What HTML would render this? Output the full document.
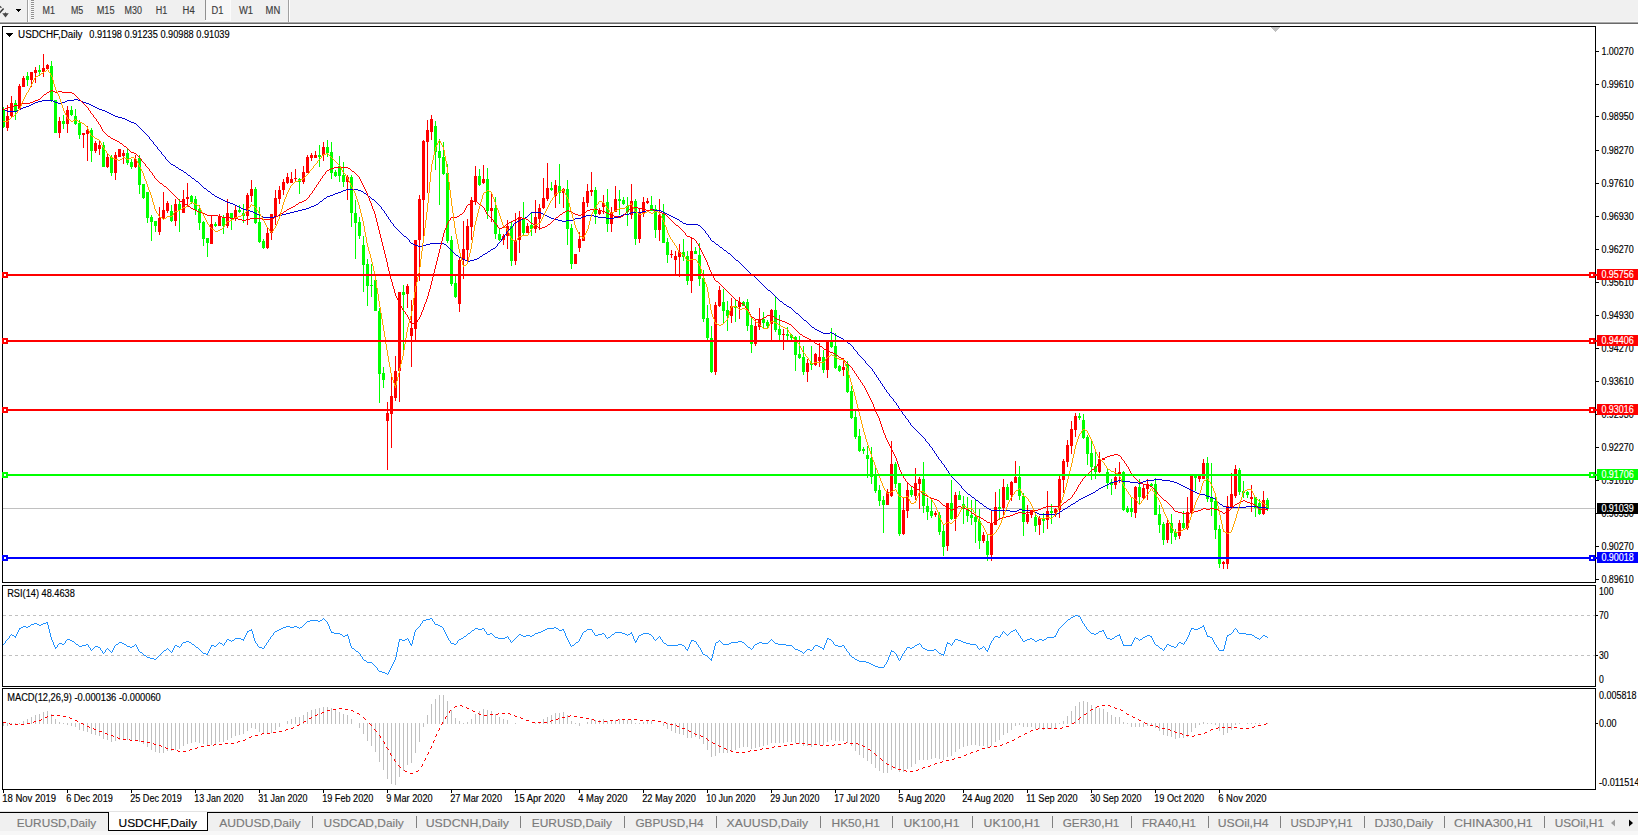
<!DOCTYPE html>
<html><head><meta charset="utf-8"><title>USDCHF,Daily</title>
<style>html,body{margin:0;padding:0;background:#fff;overflow:hidden}body{width:1638px;height:835px;position:relative;font-family:"Liberation Sans",sans-serif}</style></head>
<body>
<svg width="1638" height="835" viewBox="0 0 1638 835" style="position:absolute;left:0;top:0">
<rect x="0" y="0" width="1638" height="835" fill="#ffffff"/>
<rect x="0" y="0" width="1638" height="21" fill="#f0f0f0"/>
<rect x="0" y="21" width="1638" height="1" fill="#f6f6f6"/>
<rect x="0" y="22" width="1638" height="1" fill="#a9a9a9"/>
<rect x="0" y="23" width="1638" height="1" fill="#6a6a6a"/>
<g shape-rendering="crispEdges">
<rect x="27" y="0" width="1" height="22" fill="#a0a0a0"/><rect x="28" y="0" width="1" height="22" fill="#ffffff"/>
<rect x="16" y="9" width="5" height="1" fill="#000"/><rect x="17" y="10" width="3" height="1" fill="#000"/><rect x="18" y="11" width="1" height="1" fill="#000"/>
<rect x="31" y="0" width="3" height="1" fill="#909090"/><rect x="31" y="1" width="3" height="1" fill="#f8f8f8"/>
<rect x="31" y="2" width="3" height="1" fill="#909090"/><rect x="31" y="3" width="3" height="1" fill="#f8f8f8"/>
<rect x="31" y="4" width="3" height="1" fill="#909090"/><rect x="31" y="5" width="3" height="1" fill="#f8f8f8"/>
<rect x="31" y="6" width="3" height="1" fill="#909090"/><rect x="31" y="7" width="3" height="1" fill="#f8f8f8"/>
<rect x="31" y="8" width="3" height="1" fill="#909090"/><rect x="31" y="9" width="3" height="1" fill="#f8f8f8"/>
<rect x="31" y="10" width="3" height="1" fill="#909090"/><rect x="31" y="11" width="3" height="1" fill="#f8f8f8"/>
<rect x="31" y="12" width="3" height="1" fill="#909090"/><rect x="31" y="13" width="3" height="1" fill="#f8f8f8"/>
<rect x="31" y="14" width="3" height="1" fill="#909090"/><rect x="31" y="15" width="3" height="1" fill="#f8f8f8"/>
<rect x="31" y="16" width="3" height="1" fill="#909090"/><rect x="31" y="17" width="3" height="1" fill="#f8f8f8"/>
<rect x="31" y="18" width="3" height="1" fill="#909090"/><rect x="31" y="19" width="3" height="1" fill="#f8f8f8"/>
<rect x="206" y="0" width="24" height="20" fill="#f7f7f7"/><rect x="205" y="0" width="1" height="20" fill="#909090"/><rect x="205" y="20" width="26" height="1" fill="#fbfbfb"/><rect x="230" y="0" width="1" height="21" fill="#fbfbfb"/>
<rect x="288" y="0" width="1" height="22" fill="#a0a0a0"/><rect x="289" y="0" width="1" height="22" fill="#ffffff"/>
</g>
<path d="M3.6 8.6L-0.5 13" stroke="#383838" stroke-width="1.5" fill="none"/><path d="M0 5.8l1.8 1.4-0.6 0.9L0 7.4z" fill="#383838"/><path d="M2.2 13.2h2.4l0.9-1 0.9 1h2.4L5.5 17.4z" fill="#484848"/>
<text x="42.5" y="14.0" font-family="Liberation Sans, sans-serif" font-size="10" fill="#3c3c3c" textLength="12.4" lengthAdjust="spacingAndGlyphs" stroke="#3c3c3c" stroke-width="0.15">M1</text>
<text x="71.0" y="14.0" font-family="Liberation Sans, sans-serif" font-size="10" fill="#3c3c3c" textLength="12.3" lengthAdjust="spacingAndGlyphs" stroke="#3c3c3c" stroke-width="0.15">M5</text>
<text x="96.7" y="14.0" font-family="Liberation Sans, sans-serif" font-size="10" fill="#3c3c3c" textLength="17.8" lengthAdjust="spacingAndGlyphs" stroke="#3c3c3c" stroke-width="0.15">M15</text>
<text x="124.5" y="14.0" font-family="Liberation Sans, sans-serif" font-size="10" fill="#3c3c3c" textLength="17.4" lengthAdjust="spacingAndGlyphs" stroke="#3c3c3c" stroke-width="0.15">M30</text>
<text x="155.7" y="14.0" font-family="Liberation Sans, sans-serif" font-size="10" fill="#3c3c3c" textLength="11.5" lengthAdjust="spacingAndGlyphs" stroke="#3c3c3c" stroke-width="0.15">H1</text>
<text x="182.6" y="14.0" font-family="Liberation Sans, sans-serif" font-size="10" fill="#3c3c3c" textLength="12.1" lengthAdjust="spacingAndGlyphs" stroke="#3c3c3c" stroke-width="0.15">H4</text>
<text x="211.5" y="14.0" font-family="Liberation Sans, sans-serif" font-size="10" fill="#3c3c3c" textLength="11.9" lengthAdjust="spacingAndGlyphs" stroke="#3c3c3c" stroke-width="0.15">D1</text>
<text x="239.0" y="14.0" font-family="Liberation Sans, sans-serif" font-size="10" fill="#3c3c3c" textLength="14.1" lengthAdjust="spacingAndGlyphs" stroke="#3c3c3c" stroke-width="0.15">W1</text>
<text x="265.6" y="14.0" font-family="Liberation Sans, sans-serif" font-size="10" fill="#3c3c3c" textLength="14.6" lengthAdjust="spacingAndGlyphs" stroke="#3c3c3c" stroke-width="0.15">MN</text>
<g shape-rendering="crispEdges">
<rect x="3" y="508" width="1592" height="1" fill="#c0c0c0"/>
<path d="M3 615.5H1595" stroke="#c0c0c0" stroke-width="1" stroke-dasharray="3 3" fill="none"/>
<path d="M3 655.5H1595" stroke="#c0c0c0" stroke-width="1" stroke-dasharray="3 3" fill="none"/>
<path d="M3 723h1v3h-1zM7 723h1v3h-1zM11 723h1v2h-1zM15 723h1v2h-1zM19 723h1v1h-1zM23 721h1v3h-1zM27 719h1v5h-1zM31 717h1v7h-1zM35 715h1v9h-1zM39 714h1v10h-1zM43 712h1v12h-1zM47 711h1v13h-1zM51 714h1v10h-1zM55 719h1v5h-1zM59 722h1v2h-1zM63 723h1v1h-1zM67 723h1v2h-1zM71 723h1v3h-1zM75 723h1v4h-1zM79 723h1v7h-1zM83 723h1v8h-1zM87 723h1v9h-1zM91 723h1v11h-1zM95 723h1v12h-1zM99 723h1v13h-1zM103 723h1v16h-1zM107 723h1v17h-1zM111 723h1v19h-1zM115 723h1v18h-1zM119 723h1v17h-1zM123 723h1v17h-1zM127 723h1v17h-1zM131 723h1v17h-1zM135 723h1v17h-1zM139 723h1v19h-1zM143 723h1v21h-1zM147 723h1v24h-1zM151 723h1v27h-1zM155 723h1v29h-1zM159 723h1v30h-1zM163 723h1v30h-1zM167 723h1v28h-1zM171 723h1v28h-1zM175 723h1v27h-1zM179 723h1v26h-1zM183 723h1v23h-1zM187 723h1v21h-1zM191 723h1v20h-1zM195 723h1v19h-1zM199 723h1v20h-1zM203 723h1v21h-1zM207 723h1v23h-1zM211 723h1v22h-1zM215 723h1v21h-1zM219 723h1v19h-1zM223 723h1v19h-1zM227 723h1v17h-1zM231 723h1v15h-1zM235 723h1v13h-1zM239 723h1v12h-1zM243 723h1v11h-1zM247 723h1v8h-1zM251 723h1v5h-1zM255 723h1v6h-1zM259 723h1v9h-1zM263 723h1v11h-1zM267 723h1v11h-1zM271 723h1v10h-1zM275 723h1v7h-1zM279 723h1v4h-1zM287 721h1v3h-1zM291 719h1v5h-1zM295 717h1v7h-1zM299 717h1v7h-1zM303 715h1v9h-1zM307 712h1v12h-1zM311 710h1v14h-1zM315 709h1v15h-1zM319 708h1v16h-1zM323 707h1v17h-1zM327 707h1v17h-1zM331 708h1v16h-1zM335 710h1v14h-1zM339 712h1v12h-1zM343 714h1v10h-1zM347 715h1v9h-1zM351 719h1v5h-1zM359 723h1v5h-1zM363 723h1v11h-1zM367 723h1v18h-1zM371 723h1v23h-1zM375 723h1v29h-1zM379 723h1v39h-1zM383 723h1v47h-1zM387 723h1v56h-1zM391 723h1v61h-1zM395 723h1v62h-1zM399 723h1v54h-1zM403 723h1v48h-1zM407 723h1v42h-1zM411 723h1v40h-1zM415 723h1v30h-1zM419 723h1v19h-1zM423 723h1v4h-1zM427 715h1v9h-1zM431 704h1v20h-1zM435 699h1v25h-1zM439 695h1v29h-1zM443 695h1v29h-1zM447 701h1v23h-1zM451 710h1v14h-1zM455 718h1v6h-1zM459 721h1v3h-1zM463 723h1v1h-1zM467 722h1v2h-1zM471 719h1v5h-1zM475 714h1v10h-1zM479 711h1v13h-1zM483 709h1v15h-1zM487 710h1v14h-1zM491 711h1v13h-1zM495 714h1v10h-1zM499 717h1v7h-1zM503 719h1v5h-1zM507 720h1v4h-1zM515 723h1v1h-1zM535 723h1v1h-1zM539 722h1v2h-1zM543 719h1v5h-1zM547 717h1v7h-1zM551 715h1v9h-1zM555 713h1v11h-1zM559 713h1v11h-1zM563 712h1v12h-1zM567 715h1v9h-1zM571 721h1v3h-1zM575 723h1v1h-1zM579 723h1v3h-1zM587 722h1v2h-1zM591 719h1v5h-1zM595 720h1v4h-1zM599 720h1v4h-1zM603 719h1v5h-1zM607 721h1v3h-1zM611 721h1v3h-1zM615 720h1v4h-1zM619 719h1v5h-1zM623 719h1v5h-1zM627 720h1v4h-1zM631 720h1v4h-1zM635 723h1v1h-1zM639 723h1v1h-1zM643 722h1v2h-1zM647 721h1v3h-1zM651 721h1v3h-1zM663 723h1v3h-1zM667 723h1v6h-1zM671 723h1v8h-1zM675 723h1v10h-1zM679 723h1v11h-1zM683 723h1v12h-1zM687 723h1v15h-1zM691 723h1v15h-1zM695 723h1v14h-1zM699 723h1v16h-1zM703 723h1v21h-1zM707 723h1v27h-1zM711 723h1v34h-1zM715 723h1v33h-1zM719 723h1v30h-1zM723 723h1v30h-1zM727 723h1v30h-1zM731 723h1v28h-1zM735 723h1v27h-1zM739 723h1v25h-1zM743 723h1v24h-1zM747 723h1v24h-1zM751 723h1v26h-1zM755 723h1v25h-1zM759 723h1v24h-1zM763 723h1v23h-1zM767 723h1v22h-1zM771 723h1v20h-1zM775 723h1v20h-1zM779 723h1v20h-1zM783 723h1v20h-1zM787 723h1v19h-1zM791 723h1v19h-1zM795 723h1v20h-1zM799 723h1v21h-1zM803 723h1v23h-1zM807 723h1v23h-1zM811 723h1v24h-1zM815 723h1v22h-1zM819 723h1v22h-1zM823 723h1v22h-1zM827 723h1v19h-1zM831 723h1v17h-1zM835 723h1v18h-1zM839 723h1v18h-1zM843 723h1v18h-1zM847 723h1v20h-1zM851 723h1v23h-1zM855 723h1v28h-1zM859 723h1v32h-1zM863 723h1v35h-1zM867 723h1v38h-1zM871 723h1v41h-1zM875 723h1v45h-1zM879 723h1v48h-1zM883 723h1v50h-1zM887 723h1v50h-1zM891 723h1v47h-1zM895 723h1v46h-1zM899 723h1v49h-1zM903 723h1v49h-1zM907 723h1v46h-1zM911 723h1v44h-1zM915 723h1v41h-1zM919 723h1v37h-1zM923 723h1v37h-1zM927 723h1v37h-1zM931 723h1v36h-1zM935 723h1v35h-1zM939 723h1v36h-1zM943 723h1v37h-1zM947 723h1v34h-1zM951 723h1v33h-1zM955 723h1v29h-1zM959 723h1v26h-1zM963 723h1v24h-1zM967 723h1v23h-1zM971 723h1v22h-1zM975 723h1v22h-1zM979 723h1v23h-1zM983 723h1v23h-1zM987 723h1v25h-1zM991 723h1v23h-1zM995 723h1v19h-1zM999 723h1v17h-1zM1003 723h1v12h-1zM1007 723h1v10h-1zM1011 723h1v7h-1zM1015 723h1v3h-1zM1019 723h1v2h-1zM1023 723h1v4h-1zM1027 723h1v4h-1zM1031 723h1v4h-1zM1035 723h1v6h-1zM1039 723h1v6h-1zM1043 723h1v7h-1zM1047 723h1v6h-1zM1051 723h1v6h-1zM1055 723h1v5h-1zM1059 723h1v1h-1zM1063 721h1v3h-1zM1067 716h1v8h-1zM1071 711h1v13h-1zM1075 706h1v18h-1zM1079 702h1v22h-1zM1083 701h1v23h-1zM1087 702h1v22h-1zM1091 705h1v19h-1zM1095 707h1v17h-1zM1099 708h1v16h-1zM1103 709h1v15h-1zM1107 712h1v12h-1zM1111 715h1v9h-1zM1115 717h1v7h-1zM1119 717h1v7h-1zM1123 722h1v2h-1zM1127 723h1v1h-1zM1131 723h1v4h-1zM1135 723h1v4h-1zM1139 723h1v4h-1zM1143 723h1v4h-1zM1147 723h1v3h-1zM1151 723h1v3h-1zM1155 723h1v5h-1zM1159 723h1v8h-1zM1163 723h1v12h-1zM1167 723h1v13h-1zM1171 723h1v14h-1zM1175 723h1v16h-1zM1179 723h1v15h-1zM1183 723h1v15h-1zM1187 723h1v14h-1zM1191 723h1v9h-1zM1195 723h1v5h-1zM1199 723h1v2h-1zM1203 722h1v2h-1zM1207 723h1v1h-1zM1211 723h1v1h-1zM1215 723h1v2h-1zM1219 723h1v8h-1zM1223 723h1v12h-1zM1227 723h1v10h-1zM1231 723h1v7h-1zM1235 723h1v2h-1zM1239 723h1v1h-1zM1247 723h1v1h-1zM1251 723h1v1h-1zM1255 723h1v1h-1zM1259 723h1v1h-1zM1267 723h1v1h-1z" fill="#c0c0c0"/>
<path d="M3 107h1v21h-1zM2 109h3v18h-3zM15 100h1v20h-1zM14 103h3v8h-3zM27 72h1v14h-1zM26 76h3v4h-3zM39 65h1v11h-1zM38 70h3v2h-3zM51 61h1v41h-1zM50 66h3v34h-3zM55 100h1v33h-1zM54 100h3v33h-3zM63 115h1v14h-1zM62 121h3v3h-3zM71 106h1v10h-1zM70 110h3v5h-3zM75 109h1v16h-1zM74 116h3v8h-3zM79 120h1v19h-1zM78 123h3v12h-3zM91 128h1v34h-1zM90 130h3v21h-3zM103 142h1v25h-1zM102 145h3v22h-3zM111 155h1v21h-1zM110 157h3v16h-3zM127 149h1v16h-1zM126 153h3v10h-3zM131 159h1v10h-1zM130 162h3v5h-3zM139 155h1v39h-1zM138 158h3v27h-3zM143 184h1v15h-1zM142 184h3v14h-3zM147 192h1v31h-1zM146 192h3v26h-3zM151 215h1v26h-1zM150 217h3v5h-3zM155 221h1v11h-1zM154 221h3v5h-3zM171 205h1v17h-1zM170 211h3v10h-3zM179 199h1v33h-1zM178 204h3v6h-3zM191 195h1v9h-1zM190 196h3v6h-3zM195 196h1v19h-1zM194 199h3v11h-3zM199 205h1v25h-1zM198 209h3v14h-3zM203 221h1v25h-1zM202 222h3v17h-3zM207 238h1v19h-1zM206 238h3v5h-3zM215 222h1v5h-1zM214 224h3v2h-3zM223 215h1v19h-1zM222 218h3v8h-3zM231 213h1v17h-1zM230 213h3v5h-3zM239 205h1v8h-1zM238 210h3v2h-3zM243 204h1v19h-1zM242 213h3v3h-3zM255 187h1v37h-1zM254 189h3v34h-3zM259 207h1v36h-1zM258 222h3v20h-3zM263 239h1v10h-1zM262 241h3v7h-3zM299 178h1v16h-1zM298 179h3v3h-3zM319 145h1v22h-1zM318 155h3v2h-3zM327 140h1v17h-1zM326 147h3v6h-3zM331 142h1v37h-1zM330 152h3v21h-3zM335 170h1v7h-1zM334 172h3v4h-3zM339 156h1v26h-1zM338 166h3v10h-3zM343 162h1v25h-1zM342 175h3v7h-3zM351 175h1v52h-1zM350 177h3v36h-3zM355 200h1v59h-1zM354 213h3v10h-3zM359 217h1v22h-1zM358 222h3v14h-3zM363 236h1v56h-1zM362 245h3v20h-3zM367 259h1v47h-1zM366 264h3v22h-3zM371 264h1v33h-1zM370 285h3v1h-3zM375 280h1v31h-1zM374 280h3v31h-3zM379 308h1v95h-1zM378 311h3v63h-3zM383 367h1v21h-1zM382 373h3v7h-3zM403 285h1v65h-1zM402 292h3v3h-3zM435 121h1v49h-1zM434 126h3v26h-3zM439 139h1v66h-1zM438 151h3v7h-3zM443 142h1v33h-1zM442 157h3v17h-3zM447 164h1v79h-1zM446 173h3v68h-3zM451 236h1v50h-1zM450 240h3v44h-3zM455 276h1v22h-1zM454 283h3v14h-3zM479 169h1v17h-1zM478 176h3v9h-3zM487 168h1v51h-1zM486 179h3v32h-3zM495 197h1v42h-1zM494 208h3v26h-3zM499 228h1v13h-1zM498 234h3v6h-3zM511 222h1v44h-1zM510 226h3v35h-3zM523 202h1v33h-1zM522 218h3v15h-3zM531 213h1v23h-1zM530 225h3v4h-3zM551 182h1v9h-1zM550 188h3v2h-3zM559 164h1v40h-1zM558 186h3v7h-3zM567 180h1v65h-1zM566 189h3v40h-3zM571 224h1v45h-1zM570 228h3v36h-3zM595 187h1v37h-1zM594 190h3v24h-3zM607 189h1v43h-1zM606 202h3v22h-3zM619 190h1v25h-1zM618 199h3v2h-3zM623 197h1v8h-1zM622 200h3v4h-3zM627 197h1v29h-1zM626 206h3v6h-3zM635 199h1v46h-1zM634 201h3v38h-3zM651 196h1v15h-1zM650 205h3v6h-3zM655 205h1v33h-1zM654 209h3v21h-3zM663 204h1v39h-1zM662 213h3v30h-3zM667 238h1v25h-1zM666 242h3v13h-3zM683 239h1v22h-1zM682 252h3v5h-3zM687 251h1v34h-1zM686 256h3v25h-3zM695 247h1v7h-1zM694 251h3v3h-3zM699 243h1v43h-1zM698 255h3v24h-3zM703 270h1v52h-1zM702 278h3v41h-3zM707 305h1v35h-1zM706 318h3v20h-3zM711 326h1v47h-1zM710 338h3v34h-3zM723 289h1v34h-1zM722 302h3v9h-3zM727 301h1v30h-1zM726 310h3v6h-3zM735 300h1v22h-1zM734 306h3v2h-3zM743 301h1v5h-1zM742 302h3v4h-3zM747 299h1v32h-1zM746 302h3v24h-3zM751 317h1v36h-1zM750 325h3v19h-3zM763 312h1v17h-1zM762 319h3v4h-3zM767 320h1v8h-1zM766 322h3v4h-3zM775 296h1v36h-1zM774 310h3v20h-3zM779 315h1v25h-1zM778 329h3v6h-3zM787 327h1v13h-1zM786 334h3v2h-3zM791 334h1v6h-1zM790 335h3v3h-3zM795 336h1v35h-1zM794 337h3v18h-3zM799 336h1v23h-1zM798 354h3v4h-3zM803 346h1v29h-1zM802 357h3v15h-3zM811 346h1v24h-1zM810 363h3v2h-3zM823 350h1v23h-1zM822 357h3v13h-3zM831 328h1v20h-1zM830 341h3v6h-3zM835 333h1v36h-1zM834 346h3v22h-3zM839 365h1v7h-1zM838 366h3v5h-3zM847 361h1v32h-1zM846 364h3v28h-3zM851 386h1v33h-1zM850 391h3v27h-3zM855 411h1v28h-1zM854 417h3v20h-3zM859 429h1v23h-1zM858 436h3v15h-3zM863 447h1v7h-1zM862 449h3v2h-3zM867 446h1v32h-1zM866 455h3v4h-3zM871 447h1v37h-1zM870 458h3v19h-3zM875 467h1v26h-1zM874 474h3v17h-3zM879 485h1v21h-1zM878 490h3v11h-3zM883 496h1v37h-1zM882 500h3v5h-3zM895 462h1v26h-1zM894 464h3v20h-3zM899 483h1v53h-1zM898 483h3v51h-3zM911 486h1v11h-1zM910 490h3v5h-3zM923 462h1v51h-1zM922 479h3v27h-3zM927 498h1v22h-1zM926 506h3v6h-3zM931 500h1v18h-1zM930 511h3v5h-3zM939 512h1v23h-1zM938 515h3v17h-3zM943 525h1v31h-1zM942 531h3v16h-3zM951 480h1v40h-1zM950 503h3v16h-3zM959 491h1v9h-1zM958 495h3v5h-3zM963 496h1v28h-1zM962 504h3v5h-3zM967 497h1v25h-1zM966 509h3v7h-3zM971 500h1v25h-1zM970 515h3v3h-3zM975 499h1v44h-1zM974 517h3v5h-3zM979 509h1v40h-1zM978 521h3v20h-3zM987 534h1v27h-1zM986 541h3v14h-3zM999 489h1v31h-1zM998 507h3v2h-3zM1007 484h1v16h-1zM1006 487h3v13h-3zM1019 466h1v34h-1zM1018 477h3v19h-3zM1023 493h1v43h-1zM1022 496h3v26h-3zM1035 513h1v19h-1zM1034 517h3v9h-3zM1043 513h1v20h-1zM1042 518h3v3h-3zM1051 504h1v20h-1zM1050 511h3v2h-3zM1079 413h1v7h-1zM1078 416h3v2h-3zM1083 414h1v25h-1zM1082 420h3v18h-3zM1087 435h1v30h-1zM1086 437h3v17h-3zM1091 440h1v40h-1zM1090 453h3v14h-3zM1095 451h1v28h-1zM1094 466h3v6h-3zM1107 468h1v21h-1zM1106 472h3v11h-3zM1111 479h1v16h-1zM1110 482h3v3h-3zM1123 471h1v40h-1zM1122 472h3v38h-3zM1127 506h1v7h-1zM1126 508h3v4h-3zM1131 498h1v19h-1zM1130 508h3v4h-3zM1139 479h1v26h-1zM1138 487h3v10h-3zM1151 483h1v3h-1zM1150 484h3v2h-3zM1155 478h1v37h-1zM1154 484h3v31h-3zM1159 505h1v28h-1zM1158 514h3v11h-3zM1163 522h1v23h-1zM1162 524h3v16h-3zM1171 514h1v30h-1zM1170 523h3v10h-3zM1175 529h1v11h-1zM1174 532h3v5h-3zM1183 511h1v19h-1zM1182 523h3v5h-3zM1195 476h1v15h-1zM1194 476h3v2h-3zM1207 457h1v45h-1zM1206 463h3v36h-3zM1211 463h1v53h-1zM1210 498h3v4h-3zM1215 496h1v43h-1zM1214 501h3v29h-3zM1219 525h1v43h-1zM1218 529h3v35h-3zM1239 468h1v27h-1zM1238 470h3v22h-3zM1243 481h1v17h-1zM1242 491h3v2h-3zM1247 491h1v7h-1zM1246 492h3v3h-3zM1255 497h1v20h-1zM1254 497h3v11h-3zM1259 499h1v16h-1zM1258 503h3v11h-3zM1267 498h1v13h-1zM1266 500h3v9h-3z" fill="#00ff00"/>
<path d="M7 105h1v26h-1zM6 116h3v12h-3zM11 96h1v21h-1zM10 103h3v13h-3zM19 84h1v25h-1zM18 86h3v23h-3zM23 76h1v11h-1zM22 78h3v9h-3zM31 72h1v15h-1zM30 72h3v8h-3zM35 67h1v16h-1zM34 70h3v3h-3zM43 54h1v23h-1zM42 68h3v4h-3zM47 64h1v5h-1zM46 65h3v4h-3zM59 117h1v21h-1zM58 121h3v12h-3zM67 106h1v27h-1zM66 110h3v14h-3zM83 133h1v15h-1zM82 133h3v2h-3zM87 126h1v35h-1zM86 130h3v4h-3zM95 141h1v12h-1zM94 143h3v8h-3zM99 141h1v14h-1zM98 145h3v4h-3zM107 154h1v14h-1zM106 157h3v10h-3zM115 152h1v28h-1zM114 155h3v18h-3zM119 149h1v8h-1zM118 149h3v8h-3zM123 150h1v14h-1zM122 153h3v3h-3zM135 155h1v13h-1zM134 159h3v8h-3zM159 207h1v28h-1zM158 218h3v14h-3zM163 192h1v28h-1zM162 210h3v8h-3zM167 201h1v12h-1zM166 203h3v8h-3zM175 199h1v27h-1zM174 204h3v17h-3zM183 190h1v23h-1zM182 199h3v14h-3zM187 183h1v23h-1zM186 197h3v2h-3zM211 216h1v28h-1zM210 224h3v20h-3zM219 214h1v12h-1zM218 217h3v9h-3zM227 199h1v29h-1zM226 213h3v13h-3zM235 206h1v15h-1zM234 210h3v8h-3zM247 193h1v32h-1zM246 195h3v21h-3zM251 180h1v22h-1zM250 189h3v7h-3zM267 228h1v21h-1zM266 233h3v15h-3zM271 214h1v26h-1zM270 214h3v19h-3zM275 190h1v35h-1zM274 198h3v18h-3zM279 186h1v18h-1zM278 190h3v9h-3zM283 179h1v16h-1zM282 182h3v8h-3zM287 173h1v11h-1zM286 177h3v6h-3zM291 172h1v11h-1zM290 179h3v4h-3zM295 169h1v12h-1zM294 178h3v1h-3zM303 166h1v18h-1zM302 172h3v10h-3zM307 155h1v18h-1zM306 157h3v16h-3zM311 153h1v8h-1zM310 155h3v3h-3zM315 151h1v7h-1zM314 155h3v3h-3zM323 142h1v19h-1zM322 147h3v8h-3zM347 175h1v25h-1zM346 177h3v5h-3zM387 402h1v68h-1zM386 413h3v8h-3zM391 376h1v72h-1zM390 396h3v18h-3zM395 356h1v45h-1zM394 371h3v27h-3zM399 292h1v110h-1zM398 292h3v79h-3zM407 284h1v24h-1zM406 286h3v8h-3zM411 300h1v67h-1zM410 328h3v8h-3zM415 240h1v100h-1zM414 240h3v89h-3zM419 195h1v86h-1zM418 199h3v41h-3zM423 140h1v96h-1zM422 141h3v59h-3zM427 120h1v73h-1zM426 130h3v12h-3zM431 115h1v25h-1zM430 119h3v13h-3zM459 258h1v54h-1zM458 260h3v44h-3zM463 221h1v58h-1zM462 249h3v11h-3zM467 219h1v43h-1zM466 226h3v24h-3zM471 197h1v43h-1zM470 200h3v27h-3zM475 166h1v39h-1zM474 176h3v25h-3zM483 165h1v19h-1zM482 179h3v4h-3zM491 193h1v29h-1zM490 208h3v3h-3zM503 234h1v11h-1zM502 236h3v4h-3zM507 220h1v29h-1zM506 226h3v10h-3zM515 213h1v52h-1zM514 240h3v21h-3zM519 211h1v42h-1zM518 217h3v23h-3zM527 223h1v10h-1zM526 226h3v7h-3zM535 200h1v33h-1zM534 217h3v12h-3zM539 204h1v26h-1zM538 208h3v11h-3zM543 178h1v31h-1zM542 198h3v10h-3zM547 163h1v38h-1zM546 188h3v11h-3zM555 180h1v28h-1zM554 185h3v11h-3zM563 188h1v20h-1zM562 189h3v4h-3zM575 254h1v10h-1zM574 254h3v10h-3zM579 232h1v20h-1zM578 239h3v9h-3zM583 197h1v44h-1zM582 202h3v39h-3zM587 184h1v23h-1zM586 191h3v12h-3zM591 172h1v24h-1zM590 190h3v2h-3zM599 208h1v7h-1zM598 210h3v4h-3zM603 195h1v19h-1zM602 203h3v4h-3zM611 207h1v25h-1zM610 212h3v12h-3zM615 186h1v26h-1zM614 199h3v13h-3zM631 184h1v35h-1zM630 201h3v14h-3zM639 208h1v35h-1zM638 213h3v26h-3zM643 197h1v20h-1zM642 202h3v11h-3zM647 198h1v6h-1zM646 201h3v2h-3zM659 199h1v42h-1zM658 215h3v15h-3zM671 250h1v8h-1zM670 254h3v1h-3zM675 251h1v25h-1zM674 256h3v4h-3zM679 244h1v33h-1zM678 252h3v5h-3zM691 237h1v56h-1zM690 251h3v30h-3zM715 302h1v73h-1zM714 305h3v67h-3zM719 286h1v21h-1zM718 290h3v16h-3zM731 298h1v25h-1zM730 306h3v10h-3zM739 297h1v22h-1zM738 302h3v5h-3zM755 320h1v26h-1zM754 326h3v18h-3zM759 308h1v22h-1zM758 319h3v8h-3zM771 309h1v31h-1zM770 310h3v14h-3zM783 329h1v21h-1zM782 334h3v1h-3zM807 359h1v23h-1zM806 363h3v9h-3zM815 353h1v13h-1zM814 354h3v11h-3zM819 343h1v24h-1zM818 357h3v4h-3zM827 340h1v38h-1zM826 341h3v29h-3zM843 358h1v18h-1zM842 367h3v3h-3zM887 489h1v16h-1zM886 492h3v13h-3zM891 441h1v56h-1zM890 464h3v32h-3zM903 497h1v38h-1zM902 510h3v24h-3zM907 482h1v36h-1zM906 490h3v21h-3zM915 468h1v32h-1zM914 483h3v13h-3zM919 477h1v32h-1zM918 479h3v5h-3zM935 511h1v6h-1zM934 513h3v2h-3zM947 503h1v48h-1zM946 503h3v43h-3zM955 492h1v39h-1zM954 495h3v24h-3zM983 532h1v11h-1zM982 535h3v6h-3zM991 511h1v50h-1zM990 524h3v31h-3zM995 492h1v33h-1zM994 507h3v18h-3zM1003 479h1v36h-1zM1002 487h3v21h-3zM1011 481h1v20h-1zM1010 482h3v13h-3zM1015 461h1v22h-1zM1014 477h3v6h-3zM1027 505h1v19h-1zM1026 514h3v8h-3zM1031 510h1v8h-1zM1030 510h3v5h-3zM1039 516h1v19h-1zM1038 518h3v7h-3zM1047 491h1v38h-1zM1046 511h3v9h-3zM1055 508h1v9h-1zM1054 509h3v4h-3zM1059 476h1v42h-1zM1058 479h3v31h-3zM1063 459h1v34h-1zM1062 461h3v19h-3zM1067 440h1v27h-1zM1066 445h3v17h-3zM1071 421h1v33h-1zM1070 429h3v17h-3zM1075 413h1v24h-1zM1074 416h3v14h-3zM1099 452h1v21h-1zM1098 459h3v13h-3zM1103 458h1v2h-1zM1102 458h3v2h-3zM1115 468h1v21h-1zM1114 477h3v8h-3zM1119 462h1v21h-1zM1118 472h3v2h-3zM1135 486h1v32h-1zM1134 487h3v26h-3zM1143 485h1v14h-1zM1142 488h3v10h-3zM1147 479h1v21h-1zM1146 484h3v5h-3zM1167 520h1v23h-1zM1166 523h3v17h-3zM1179 520h1v19h-1zM1178 523h3v13h-3zM1187 497h1v33h-1zM1186 512h3v16h-3zM1191 475h1v39h-1zM1190 476h3v37h-3zM1199 476h1v6h-1zM1198 476h3v3h-3zM1203 459h1v20h-1zM1202 463h3v16h-3zM1223 561h1v8h-1zM1222 562h3v2h-3zM1227 496h1v73h-1zM1226 506h3v58h-3zM1231 473h1v34h-1zM1230 494h3v13h-3zM1235 465h1v33h-1zM1234 469h3v27h-3zM1251 485h1v27h-1zM1250 497h3v2h-3zM1263 491h1v24h-1zM1262 500h3v14h-3z" fill="#ff0000"/>
<path d="M796 313h2v1h-2zM403 235h1v1h-1zM504 235h1v1h-1zM708 235h1v1h-1zM237 206h2v1h-2zM311 206h3v1h-3zM380 206h1v1h-1zM778 299h1v1h-1zM140 128h1v1h-1zM141 129h1v1h-1zM196 181h2v1h-2zM239 207h2v1h-2zM309 207h2v1h-2zM381 207h1v1h-1zM259 215h2v1h-2zM278 215h4v1h-4zM386 215h1v1h-1zM528 215h1v1h-1zM545 215h2v1h-2zM586 215h8v1h-8zM621 215h2v1h-2zM669 215h2v1h-2zM176 167h2v1h-2zM118 117h4v1h-4zM929 445h1v1h-1zM243 209h3v1h-3zM302 209h4v1h-4zM382 209h1v1h-1zM650 209h4v1h-4zM965 491h1v1h-1zM1095 491h1v1h-1zM1193 491h2v1h-2zM413 244h2v1h-2zM426 244h4v1h-4zM444 244h2v1h-2zM497 244h1v1h-1zM716 244h2v1h-2zM42 100h11v1h-11zM67 100h7v1h-7zM78 100h3v1h-3zM984 506h2v1h-2zM1068 506h2v1h-2zM1223 506h3v1h-3zM1246 506h12v1h-12zM456 255h2v1h-2zM482 255h1v1h-1zM731 255h1v1h-1zM35 102h3v1h-3zM55 102h3v1h-3zM62 102h3v1h-3zM83 102h3v1h-3zM390 220h1v1h-1zM519 220h2v1h-2zM558 220h4v1h-4zM566 220h7v1h-7zM679 220h1v1h-1zM223 200h2v1h-2zM322 200h1v1h-1zM374 200h1v1h-1zM389 219h1v1h-1zM521 219h2v1h-2zM554 219h4v1h-4zM573 219h2v1h-2zM677 219h2v1h-2zM3 109h2v1h-2zM19 109h2v1h-2zM99 109h3v1h-3zM987 508h2v1h-2zM1065 508h2v1h-2zM1266 508h2v1h-2zM393 225h1v1h-1zM513 225h1v1h-1zM698 225h2v1h-2zM821 332h2v1h-2zM830 332h2v1h-2zM814 328h1v1h-1zM394 226h1v1h-1zM512 226h1v1h-1zM700 226h1v1h-1zM792 309h1v1h-1zM970 495h1v1h-1zM1087 495h2v1h-2zM1205 495h2v1h-2zM207 190h1v1h-1zM343 190h3v1h-3zM358 190h3v1h-3zM465 260h2v1h-2zM470 260h4v1h-4zM736 260h2v1h-2zM257 214h2v1h-2zM282 214h4v1h-4zM386 214h1v1h-1zM529 214h1v1h-1zM543 214h2v1h-2zM623 214h6v1h-6zM667 214h2v1h-2zM956 481h1v1h-1zM1114 481h4v1h-4zM1122 481h8v1h-8zM1143 481h3v1h-3zM1170 481h4v1h-4zM467 261h3v1h-3zM738 261h1v1h-1zM38 101h4v1h-4zM53 101h2v1h-2zM65 101h2v1h-2zM81 101h2v1h-2zM191 177h1v1h-1zM459 257h2v1h-2zM479 257h1v1h-1zM733 257h1v1h-1zM448 247h1v1h-1zM495 247h1v1h-1zM720 247h2v1h-2zM958 483h1v1h-1zM1109 483h2v1h-2zM1138 483h3v1h-3zM1177 483h2v1h-2zM411 243h2v1h-2zM430 243h14v1h-14zM498 243h1v1h-1zM715 243h1v1h-1zM151 140h1v1h-1zM192 178h2v1h-2zM250 211h3v1h-3zM294 211h4v1h-4zM384 211h1v1h-1zM642 211h4v1h-4zM661 211h2v1h-2zM914 428h1v1h-1zM33 103h2v1h-2zM58 103h4v1h-4zM86 103h3v1h-3zM263 217h11v1h-11zM388 217h1v1h-1zM525 217h2v1h-2zM549 217h2v1h-2zM581 217h2v1h-2zM598 217h8v1h-8zM614 217h4v1h-4zM673 217h2v1h-2zM862 358h1v1h-1zM979 502h1v1h-1zM1075 502h1v1h-1zM1218 502h1v1h-1zM963 489h1v1h-1zM1098 489h1v1h-1zM1189 489h2v1h-2zM960 485h1v1h-1zM1105 485h2v1h-2zM1181 485h2v1h-2zM215 196h2v1h-2zM327 196h3v1h-3zM368 196h2v1h-2zM863 359h1v1h-1zM809 324h1v1h-1zM261 216h2v1h-2zM274 216h4v1h-4zM387 216h1v1h-1zM527 216h1v1h-1zM547 216h2v1h-2zM583 216h3v1h-3zM594 216h4v1h-4zM618 216h3v1h-3zM671 216h2v1h-2zM407 238h1v1h-1zM502 238h1v1h-1zM710 238h1v1h-1zM810 325h1v1h-1zM799 315h1v1h-1zM393 224h1v1h-1zM513 224h1v1h-1zM686 224h12v1h-12zM986 507h1v1h-1zM1067 507h1v1h-1zM1226 507h20v1h-20zM1258 507h8v1h-8zM253 212h2v1h-2zM290 212h4v1h-4zM384 212h1v1h-1zM531 212h10v1h-10zM631 212h11v1h-11zM663 212h2v1h-2zM454 253h1v1h-1zM485 253h2v1h-2zM728 253h2v1h-2zM217 197h2v1h-2zM326 197h1v1h-1zM370 197h1v1h-1zM122 118h3v1h-3zM143 131h1v1h-1zM1034 512h3v1h-3zM1059 512h1v1h-1zM187 174h1v1h-1zM455 254h1v1h-1zM483 254h2v1h-2zM730 254h1v1h-1zM211 193h1v1h-1zM335 193h3v1h-3zM364 193h2v1h-2zM932 448h1v1h-1zM945 467h1v1h-1zM946 468h1v1h-1zM949 473h1v1h-1zM206 189h1v1h-1zM346 189h12v1h-12zM408 239h1v1h-1zM501 239h1v1h-1zM710 239h1v1h-1zM742 265h1v1h-1zM149 137h1v1h-1zM971 496h1v1h-1zM1085 496h2v1h-2zM1207 496h3v1h-3zM181 170h2v1h-2zM235 205h2v1h-2zM314 205h2v1h-2zM379 205h1v1h-1zM1010 511h7v1h-7zM1030 511h4v1h-4zM1060 511h2v1h-2zM153 143h1v1h-1zM183 171h1v1h-1zM115 116h3v1h-3zM916 430h1v1h-1zM399 231h1v1h-1zM507 231h1v1h-1zM705 231h1v1h-1zM961 486h1v1h-1zM1103 486h2v1h-2zM1183 486h2v1h-2zM991 510h19v1h-19zM1017 510h2v1h-2zM1022 510h8v1h-8zM1062 510h1v1h-1zM964 490h1v1h-1zM1096 490h2v1h-2zM1191 490h2v1h-2zM865 362h1v1h-1zM415 245h3v1h-3zM422 245h4v1h-4zM446 245h1v1h-1zM497 245h1v1h-1zM718 245h1v1h-1zM819 331h2v1h-2zM397 229h1v1h-1zM509 229h1v1h-1zM703 229h1v1h-1zM812 327h2v1h-2zM908 421h1v1h-1zM170 163h1v1h-1zM395 227h1v1h-1zM511 227h1v1h-1zM701 227h1v1h-1zM171 164h2v1h-2zM933 450h1v1h-1zM241 208h2v1h-2zM306 208h3v1h-3zM381 208h1v1h-1zM401 233h1v1h-1zM506 233h1v1h-1zM706 233h1v1h-1zM5 110h2v1h-2zM17 110h2v1h-2zM102 110h3v1h-3zM934 451h1v1h-1zM937 456h1v1h-1zM948 471h1v1h-1zM1039 514h18v1h-18zM952 477h1v1h-1zM755 277h1v1h-1zM390 221h1v1h-1zM517 221h2v1h-2zM562 221h4v1h-4zM680 221h2v1h-2zM463 259h2v1h-2zM474 259h3v1h-3zM735 259h1v1h-1zM744 267h1v1h-1zM756 278h1v1h-1zM745 268h1v1h-1zM388 218h1v1h-1zM523 218h2v1h-2zM551 218h3v1h-3zM575 218h6v1h-6zM606 218h8v1h-8zM675 218h2v1h-2zM129 121h2v1h-2zM221 199h2v1h-2zM323 199h1v1h-1zM372 199h2v1h-2zM866 363h1v1h-1zM976 500h2v1h-2zM1078 500h1v1h-1zM1216 500h1v1h-1zM867 364h1v1h-1zM966 492h1v1h-1zM1093 492h2v1h-2zM1195 492h2v1h-2zM74 99h4v1h-4zM751 274h1v1h-1zM230 203h3v1h-3zM318 203h1v1h-1zM377 203h1v1h-1zM752 275h2v1h-2zM233 204h2v1h-2zM316 204h2v1h-2zM378 204h1v1h-1zM954 479h1v1h-1zM1154 479h8v1h-8zM957 482h1v1h-1zM1111 482h3v1h-3zM1130 482h8v1h-8zM1141 482h2v1h-2zM1174 482h3v1h-3zM896 404h1v1h-1zM225 201h2v1h-2zM320 201h2v1h-2zM375 201h1v1h-1zM198 182h1v1h-1zM910 424h1v1h-1zM199 183h1v1h-1zM210 192h1v1h-1zM338 192h3v1h-3zM363 192h1v1h-1zM935 453h1v1h-1zM936 454h1v1h-1zM246 210h4v1h-4zM298 210h4v1h-4zM383 210h1v1h-1zM646 210h4v1h-4zM654 210h7v1h-7zM839 337h2v1h-2zM227 202h3v1h-3zM319 202h1v1h-1zM376 202h1v1h-1zM858 354h1v1h-1zM255 213h2v1h-2zM286 213h4v1h-4zM385 213h1v1h-1zM530 213h1v1h-1zM541 213h2v1h-2zM629 213h2v1h-2zM665 213h2v1h-2zM7 111h10v1h-10zM105 111h2v1h-2zM972 497h2v1h-2zM1083 497h2v1h-2zM1210 497h3v1h-3zM823 333h7v1h-7zM832 333h2v1h-2zM391 222h1v1h-1zM515 222h2v1h-2zM682 222h1v1h-1zM806 321h1v1h-1zM757 279h1v1h-1zM817 330h2v1h-2zM768 290h2v1h-2zM989 509h2v1h-2zM1019 509h3v1h-3zM1063 509h2v1h-2zM758 280h1v1h-1zM153 142h1v1h-1zM461 258h2v1h-2zM477 258h2v1h-2zM734 258h1v1h-1zM451 250h1v1h-1zM490 250h1v1h-1zM724 250h2v1h-2zM1037 513h2v1h-2zM1057 513h2v1h-2zM21 108h2v1h-2zM97 108h2v1h-2zM175 166h1v1h-1zM194 179h1v1h-1zM974 498h1v1h-1zM1081 498h2v1h-2zM1213 498h2v1h-2zM164 156h1v1h-1zM107 112h2v1h-2zM195 180h1v1h-1zM109 113h2v1h-2zM865 361h1v1h-1zM961 487h1v1h-1zM1101 487h2v1h-2zM1185 487h2v1h-2zM879 380h1v1h-1zM880 381h1v1h-1zM764 286h1v1h-1zM883 386h1v1h-1zM894 401h1v1h-1zM898 407h1v1h-1zM188 175h2v1h-2zM450 249h1v1h-1zM491 249h2v1h-2zM723 249h1v1h-1zM190 176h1v1h-1zM458 256h1v1h-1zM480 256h2v1h-2zM732 256h1v1h-1zM912 426h1v1h-1zM214 195h1v1h-1zM330 195h3v1h-3zM367 195h1v1h-1zM861 357h1v1h-1zM404 236h2v1h-2zM504 236h1v1h-1zM708 236h1v1h-1zM410 242h1v1h-1zM499 242h1v1h-1zM714 242h1v1h-1zM808 323h1v1h-1zM449 248h1v1h-1zM493 248h2v1h-2zM722 248h1v1h-1zM918 432h1v1h-1zM208 191h2v1h-2zM341 191h2v1h-2zM361 191h2v1h-2zM184 172h2v1h-2zM453 252h1v1h-1zM487 252h1v1h-1zM727 252h1v1h-1zM919 433h1v1h-1zM167 160h1v1h-1zM186 173h1v1h-1zM978 501h1v1h-1zM1076 501h2v1h-2zM1217 501h1v1h-1zM837 336h2v1h-2zM885 389h1v1h-1zM803 319h1v1h-1zM967 493h1v1h-1zM1091 493h2v1h-2zM1197 493h2v1h-2zM804 320h2v1h-2zM815 329h2v1h-2zM896 403h1v1h-1zM31 104h2v1h-2zM89 104h2v1h-2zM767 289h1v1h-1zM899 408h1v1h-1zM900 409h1v1h-1zM148 136h1v1h-1zM173 165h2v1h-2zM113 115h2v1h-2zM852 346h1v1h-1zM396 228h1v1h-1zM510 228h1v1h-1zM702 228h1v1h-1zM811 326h1v1h-1zM921 435h1v1h-1zM169 162h1v1h-1zM847 342h1v1h-1zM932 449h1v1h-1zM869 366h1v1h-1zM848 343h2v1h-2zM946 469h1v1h-1zM950 475h1v1h-1zM409 240h1v1h-1zM501 240h1v1h-1zM711 240h1v1h-1zM754 276h1v1h-1zM898 406h1v1h-1zM219 198h2v1h-2zM324 198h2v1h-2zM371 198h1v1h-1zM902 412h1v1h-1zM150 139h1v1h-1zM975 499h1v1h-1zM1079 499h2v1h-2zM1215 499h1v1h-1zM843 339h1v1h-1zM760 282h1v1h-1zM749 272h1v1h-1zM409 241h1v1h-1zM500 241h1v1h-1zM712 241h2v1h-2zM955 480h1v1h-1zM1118 480h4v1h-4zM1146 480h8v1h-8zM1162 480h8v1h-8zM178 168h1v1h-1zM111 114h2v1h-2zM934 452h1v1h-1zM948 472h1v1h-1zM980 503h2v1h-2zM1073 503h2v1h-2zM1219 503h1v1h-1zM962 488h1v1h-1zM1099 488h2v1h-2zM1187 488h2v1h-2zM938 458h1v1h-1zM871 368h1v1h-1zM959 484h1v1h-1zM1107 484h2v1h-2zM1179 484h2v1h-2zM872 369h1v1h-1zM203 187h1v1h-1zM26 106h3v1h-3zM93 106h2v1h-2zM152 141h1v1h-1zM915 429h1v1h-1zM204 188h2v1h-2zM762 284h1v1h-1zM763 285h1v1h-1zM882 385h1v1h-1zM29 105h2v1h-2zM91 105h2v1h-2zM936 455h1v1h-1zM873 371h1v1h-1zM950 474h1v1h-1zM841 338h2v1h-2zM212 194h2v1h-2zM333 194h2v1h-2zM366 194h1v1h-1zM418 246h4v1h-4zM447 246h1v1h-1zM496 246h1v1h-1zM719 246h1v1h-1zM780 301h2v1h-2zM770 291h1v1h-1zM154 144h1v1h-1zM155 145h1v1h-1zM917 431h1v1h-1zM880 382h1v1h-1zM884 388h1v1h-1zM776 297h1v1h-1zM765 287h1v1h-1zM923 437h1v1h-1zM938 457h1v1h-1zM850 344h1v1h-1zM851 345h1v1h-1zM942 463h1v1h-1zM134 123h2v1h-2zM156 146h1v1h-1zM157 147h1v1h-1zM968 494h2v1h-2zM1089 494h2v1h-2zM1199 494h6v1h-6zM920 434h1v1h-1zM844 340h2v1h-2zM846 341h1v1h-1zM982 504h1v1h-1zM1071 504h2v1h-2zM1220 504h2v1h-2zM868 365h1v1h-1zM400 232h1v1h-1zM506 232h1v1h-1zM705 232h1v1h-1zM882 384h1v1h-1zM886 390h1v1h-1zM900 410h1v1h-1zM200 184h1v1h-1zM901 411h1v1h-1zM940 460h1v1h-1zM944 466h1v1h-1zM834 334h1v1h-1zM853 347h1v1h-1zM392 223h1v1h-1zM514 223h1v1h-1zM683 223h3v1h-3zM402 234h1v1h-1zM505 234h1v1h-1zM707 234h1v1h-1zM759 281h1v1h-1zM158 149h1v1h-1zM159 150h1v1h-1zM870 367h1v1h-1zM884 387h1v1h-1zM874 373h1v1h-1zM787 306h2v1h-2zM888 393h1v1h-1zM902 413h1v1h-1zM131 122h3v1h-3zM913 427h1v1h-1zM202 186h1v1h-1zM854 349h1v1h-1zM855 350h1v1h-1zM406 237h1v1h-1zM503 237h1v1h-1zM709 237h1v1h-1zM772 293h1v1h-1zM743 266h1v1h-1zM761 283h1v1h-1zM773 294h1v1h-1zM23 107h3v1h-3zM95 107h2v1h-2zM160 151h1v1h-1zM161 152h1v1h-1zM872 370h1v1h-1zM876 376h1v1h-1zM890 396h1v1h-1zM904 415h1v1h-1zM905 416h1v1h-1zM944 465h1v1h-1zM857 352h1v1h-1zM774 295h1v1h-1zM775 296h1v1h-1zM137 125h1v1h-1zM138 126h1v1h-1zM922 436h1v1h-1zM163 155h1v1h-1zM951 476h1v1h-1zM874 372h1v1h-1zM878 378h1v1h-1zM892 398h1v1h-1zM835 335h2v1h-2zM859 355h1v1h-1zM398 230h1v1h-1zM508 230h1v1h-1zM704 230h1v1h-1zM139 127h1v1h-1zM983 505h1v1h-1zM1070 505h1v1h-1zM1222 505h1v1h-1zM924 438h1v1h-1zM165 157h1v1h-1zM925 439h1v1h-1zM939 459h1v1h-1zM876 375h1v1h-1zM953 478h1v1h-1zM739 262h1v1h-1zM802 318h1v1h-1zM791 308h1v1h-1zM146 134h1v1h-1zM127 120h2v1h-2zM157 148h1v1h-1zM886 391h1v1h-1zM887 392h1v1h-1zM926 441h1v1h-1zM927 442h1v1h-1zM452 251h1v1h-1zM488 251h2v1h-2zM726 251h1v1h-1zM941 461h1v1h-1zM853 348h1v1h-1zM741 264h1v1h-1zM771 292h1v1h-1zM777 298h1v1h-1zM748 271h1v1h-1zM766 288h1v1h-1zM889 395h1v1h-1zM903 414h1v1h-1zM928 443h1v1h-1zM929 444h1v1h-1zM943 464h1v1h-1zM947 470h1v1h-1zM783 303h1v1h-1zM784 304h2v1h-2zM136 124h1v1h-1zM161 153h1v1h-1zM162 154h1v1h-1zM798 314h1v1h-1zM779 300h1v1h-1zM750 273h1v1h-1zM142 130h1v1h-1zM891 397h1v1h-1zM905 417h1v1h-1zM906 418h1v1h-1zM930 446h1v1h-1zM179 169h2v1h-2zM931 447h1v1h-1zM857 353h1v1h-1zM793 310h1v1h-1zM794 311h1v1h-1zM864 360h1v1h-1zM875 374h1v1h-1zM878 379h1v1h-1zM789 307h2v1h-2zM889 394h1v1h-1zM800 316h1v1h-1zM801 317h1v1h-1zM893 400h1v1h-1zM125 119h2v1h-2zM144 132h1v1h-1zM145 133h1v1h-1zM907 419h1v1h-1zM908 420h1v1h-1zM856 351h1v1h-1zM795 312h1v1h-1zM807 322h1v1h-1zM165 158h1v1h-1zM925 440h1v1h-1zM166 159h1v1h-1zM877 377h1v1h-1zM881 383h1v1h-1zM740 263h1v1h-1zM895 402h1v1h-1zM909 422h1v1h-1zM147 135h1v1h-1zM910 423h1v1h-1zM746 269h1v1h-1zM786 305h1v1h-1zM747 270h1v1h-1zM168 161h1v1h-1zM941 462h1v1h-1zM893 399h1v1h-1zM782 302h1v1h-1zM897 405h1v1h-1zM911 425h1v1h-1zM149 138h1v1h-1zM201 185h1v1h-1zM860 356h1v1h-1z" fill="#0000d2"/>
<path d="M441 241h1v4h-1zM390 275h1v4h-1zM433 273h1v4h-1zM432 277h1v4h-1zM423 307h1v3h-1zM383 246h1v4h-1zM384 250h1v4h-1zM880 421h1v3h-1zM428 292h1v4h-1zM380 234h1v4h-1zM372 206h1v3h-1zM444 230h1v3h-1zM426 299h1v3h-1zM436 261h1v4h-1zM883 430h1v3h-1zM389 271h1v4h-1zM439 249h1v4h-1zM431 281h1v4h-1zM709 267h1v3h-1zM443 233h1v4h-1zM434 269h1v4h-1zM438 253h1v4h-1zM430 285h1v4h-1zM429 289h1v3h-1zM875 409h1v3h-1zM381 238h1v4h-1zM707 262h1v3h-1zM437 257h1v4h-1zM374 211h1v3h-1zM377 222h1v4h-1zM386 258h1v4h-1zM387 262h1v5h-1zM427 296h1v3h-1zM440 245h1v4h-1zM897 461h1v3h-1zM369 198h1v3h-1zM378 226h1v4h-1zM896 458h1v3h-1zM367 193h1v3h-1zM395 293h1v3h-1zM442 237h1v4h-1zM388 267h1v4h-1zM446 225h1v3h-1zM391 279h1v3h-1zM873 404h1v3h-1zM394 289h1v4h-1zM435 265h1v4h-1zM385 254h1v4h-1zM879 418h1v3h-1zM882 427h1v3h-1zM421 312h1v3h-1zM371 203h1v3h-1zM375 214h1v4h-1zM898 464h1v3h-1zM376 218h1v4h-1zM885 435h1v3h-1zM382 242h1v4h-1zM899 467h1v3h-1zM424 304h1v3h-1zM379 230h1v4h-1zM393 286h1v3h-1zM392 282h1v4h-1zM881 424h1v3h-1zM147 167h1v1h-1zM334 167h14v1h-14zM205 214h2v1h-2zM279 214h2v1h-2zM460 214h2v1h-2zM487 214h1v1h-1zM560 214h2v1h-2zM575 214h3v1h-3zM581 214h2v1h-2zM609 214h2v1h-2zM624 214h1v1h-1zM664 214h2v1h-2zM180 201h2v1h-2zM302 201h2v1h-2zM370 201h1v1h-1zM473 201h2v1h-2zM476 201h1v1h-1zM411 323h5v1h-5zM787 323h2v1h-2zM195 210h2v1h-2zM286 210h1v1h-1zM373 210h1v1h-1zM464 210h1v1h-1zM485 210h1v1h-1zM567 210h2v1h-2zM587 210h3v1h-3zM598 210h4v1h-4zM628 210h1v1h-1zM646 210h4v1h-4zM653 210h2v1h-2zM49 91h2v1h-2zM53 91h2v1h-2zM58 91h4v1h-4zM148 168h1v1h-1zM331 168h3v1h-3zM348 168h2v1h-2zM972 513h2v1h-2zM1015 513h3v1h-3zM1022 513h4v1h-4zM1182 513h8v1h-8zM1223 513h2v1h-2zM154 177h1v1h-1zM322 177h1v1h-1zM359 177h1v1h-1zM497 225h1v1h-1zM505 225h1v1h-1zM535 225h1v1h-1zM547 225h1v1h-1zM676 225h2v1h-2zM18 104h4v1h-4zM84 104h1v1h-1zM187 205h1v1h-1zM295 205h1v1h-1zM467 205h1v1h-1zM480 205h2v1h-2zM230 218h8v1h-8zM250 218h12v1h-12zM270 218h4v1h-4zM450 218h1v1h-1zM491 218h1v1h-1zM517 218h2v1h-2zM522 218h4v1h-4zM555 218h1v1h-1zM669 218h1v1h-1zM207 215h11v1h-11zM278 215h1v1h-1zM459 215h1v1h-1zM488 215h1v1h-1zM559 215h1v1h-1zM578 215h3v1h-3zM611 215h3v1h-3zM623 215h1v1h-1zM666 215h1v1h-1zM975 515h2v1h-2zM1010 515h3v1h-3zM1097 465h1v1h-1zM1126 465h1v1h-1zM947 507h1v1h-1zM955 507h3v1h-3zM961 507h2v1h-2zM1043 507h3v1h-3zM1172 507h1v1h-1zM1232 507h1v1h-1zM1257 507h1v1h-1zM971 512h1v1h-1zM1018 512h4v1h-4zM1026 512h4v1h-4zM1178 512h4v1h-4zM1190 512h4v1h-4zM1222 512h1v1h-1zM1225 512h2v1h-2zM900 470h1v1h-1zM1091 470h1v1h-1zM1129 470h1v1h-1zM910 485h1v1h-1zM1078 485h1v1h-1zM1146 485h4v1h-4zM199 212h3v1h-3zM283 212h1v1h-1zM463 212h1v1h-1zM486 212h1v1h-1zM563 212h2v1h-2zM571 212h2v1h-2zM584 212h2v1h-2zM605 212h2v1h-2zM626 212h1v1h-1zM658 212h4v1h-4zM152 174h1v1h-1zM324 174h1v1h-1zM356 174h1v1h-1zM900 471h1v1h-1zM1090 471h1v1h-1zM1130 471h1v1h-1zM700 249h1v1h-1zM7 107h3v1h-3zM87 107h1v1h-1zM703 254h1v1h-1zM497 226h1v1h-1zM504 226h1v1h-1zM536 226h2v1h-2zM545 226h2v1h-2zM678 226h1v1h-1zM193 209h2v1h-2zM287 209h2v1h-2zM373 209h1v1h-1zM465 209h1v1h-1zM484 209h1v1h-1zM590 209h8v1h-8zM629 209h1v1h-1zM642 209h4v1h-4zM650 209h3v1h-3zM950 509h1v1h-1zM952 509h2v1h-2zM966 509h2v1h-2zM1038 509h3v1h-3zM1173 509h1v1h-1zM1201 509h2v1h-2zM1206 509h4v1h-4zM1214 509h4v1h-4zM1230 509h1v1h-1zM1259 509h9v1h-9zM407 316h1v1h-1zM420 316h1v1h-1zM751 316h1v1h-1zM766 316h1v1h-1zM772 316h2v1h-2zM3 109h2v1h-2zM88 109h1v1h-1zM169 190h1v1h-1zM313 190h1v1h-1zM365 190h1v1h-1zM5 108h2v1h-2zM88 108h1v1h-1zM710 271h1v1h-1zM720 284h1v1h-1zM943 505h2v1h-2zM1060 505h2v1h-2zM1170 505h1v1h-1zM1234 505h1v1h-1zM1255 505h1v1h-1zM400 304h1v1h-1zM743 304h1v1h-1zM30 102h3v1h-3zM82 102h1v1h-1zM721 285h1v1h-1zM190 207h1v1h-1zM291 207h2v1h-2zM466 207h1v1h-1zM483 207h1v1h-1zM631 207h7v1h-7zM408 317h1v1h-1zM419 317h1v1h-1zM752 317h2v1h-2zM764 317h2v1h-2zM774 317h1v1h-1zM908 483h1v1h-1zM1080 483h1v1h-1zM1141 483h2v1h-2zM1100 461h1v1h-1zM1124 461h1v1h-1zM448 222h1v1h-1zM494 222h1v1h-1zM509 222h2v1h-2zM530 222h1v1h-1zM551 222h1v1h-1zM673 222h1v1h-1zM408 318h1v1h-1zM419 318h1v1h-1zM754 318h1v1h-1zM762 318h2v1h-2zM775 318h2v1h-2zM945 506h2v1h-2zM958 506h3v1h-3zM1046 506h14v1h-14zM1171 506h1v1h-1zM1233 506h1v1h-1zM1256 506h1v1h-1zM948 508h2v1h-2zM954 508h1v1h-1zM963 508h3v1h-3zM1041 508h2v1h-2zM1173 508h1v1h-1zM1203 508h3v1h-3zM1210 508h4v1h-4zM1231 508h1v1h-1zM1258 508h1v1h-1zM979 517h2v1h-2zM1002 517h4v1h-4zM1095 467h1v1h-1zM1128 467h1v1h-1zM974 514h1v1h-1zM1013 514h2v1h-2zM448 221h1v1h-1zM493 221h1v1h-1zM511 221h2v1h-2zM529 221h1v1h-1zM552 221h1v1h-1zM672 221h1v1h-1zM919 490h1v1h-1zM1076 490h1v1h-1zM1155 490h1v1h-1zM222 217h8v1h-8zM274 217h2v1h-2zM451 217h6v1h-6zM490 217h1v1h-1zM519 217h3v1h-3zM556 217h2v1h-2zM618 217h3v1h-3zM668 217h1v1h-1zM894 455h1v1h-1zM1110 455h4v1h-4zM1118 455h2v1h-2zM218 216h4v1h-4zM276 216h2v1h-2zM457 216h2v1h-2zM489 216h1v1h-1zM558 216h1v1h-1zM614 216h4v1h-4zM621 216h2v1h-2zM667 216h1v1h-1zM202 213h3v1h-3zM281 213h2v1h-2zM462 213h1v1h-1zM486 213h1v1h-1zM562 213h1v1h-1zM573 213h2v1h-2zM583 213h1v1h-1zM607 213h2v1h-2zM625 213h1v1h-1zM662 213h2v1h-2zM170 191h1v1h-1zM312 191h1v1h-1zM366 191h1v1h-1zM400 305h1v1h-1zM744 305h1v1h-1zM171 192h1v1h-1zM312 192h1v1h-1zM366 192h1v1h-1zM727 291h1v1h-1zM191 208h2v1h-2zM289 208h2v1h-2zM465 208h1v1h-1zM484 208h1v1h-1zM630 208h1v1h-1zM638 208h4v1h-4zM1098 463h1v1h-1zM1125 463h1v1h-1zM716 281h2v1h-2zM238 219h4v1h-4zM246 219h4v1h-4zM262 219h8v1h-8zM450 219h1v1h-1zM492 219h1v1h-1zM515 219h2v1h-2zM526 219h2v1h-2zM554 219h1v1h-1zM670 219h1v1h-1zM149 170h1v1h-1zM327 170h2v1h-2zM351 170h1v1h-1zM120 143h2v1h-2zM150 171h1v1h-1zM326 171h1v1h-1zM352 171h2v1h-2zM498 227h1v1h-1zM502 227h2v1h-2zM538 227h1v1h-1zM542 227h3v1h-3zM679 227h1v1h-1zM1094 468h1v1h-1zM1128 468h1v1h-1zM858 378h1v1h-1zM890 447h1v1h-1zM701 251h1v1h-1zM445 228h1v1h-1zM499 228h3v1h-3zM539 228h3v1h-3zM680 228h1v1h-1zM902 474h1v1h-1zM1087 474h1v1h-1zM1132 474h1v1h-1zM702 252h1v1h-1zM41 97h1v1h-1zM77 97h1v1h-1zM931 498h3v1h-3zM1070 498h1v1h-1zM1162 498h1v1h-1zM895 457h1v1h-1zM1105 457h2v1h-2zM1121 457h1v1h-1zM939 501h1v1h-1zM1066 501h1v1h-1zM1166 501h1v1h-1zM1241 501h2v1h-2zM1245 501h2v1h-2zM134 153h2v1h-2zM970 511h1v1h-1zM1030 511h4v1h-4zM1175 511h3v1h-3zM1194 511h4v1h-4zM1220 511h2v1h-2zM1227 511h1v1h-1zM410 321h1v1h-1zM417 321h1v1h-1zM782 321h3v1h-3zM108 136h2v1h-2zM185 204h2v1h-2zM296 204h2v1h-2zM468 204h2v1h-2zM479 204h1v1h-1zM447 223h1v1h-1zM495 223h1v1h-1zM507 223h2v1h-2zM531 223h2v1h-2zM550 223h1v1h-1zM674 223h1v1h-1zM197 211h2v1h-2zM284 211h2v1h-2zM464 211h1v1h-1zM485 211h1v1h-1zM565 211h2v1h-2zM569 211h2v1h-2zM586 211h1v1h-1zM602 211h3v1h-3zM627 211h1v1h-1zM655 211h3v1h-3zM447 224h1v1h-1zM496 224h1v1h-1zM506 224h1v1h-1zM533 224h2v1h-2zM548 224h2v1h-2zM675 224h1v1h-1zM182 202h1v1h-1zM299 202h3v1h-3zM370 202h1v1h-1zM471 202h2v1h-2zM477 202h1v1h-1zM868 395h1v1h-1zM895 456h1v1h-1zM1107 456h3v1h-3zM1120 456h1v1h-1zM871 400h1v1h-1zM398 301h1v1h-1zM738 301h1v1h-1zM399 302h1v1h-1zM425 302h1v1h-1zM739 302h2v1h-2zM878 416h1v1h-1zM729 293h1v1h-1zM990 523h3v1h-3zM730 294h1v1h-1zM151 172h1v1h-1zM325 172h1v1h-1zM354 172h1v1h-1zM984 520h2v1h-2zM996 520h2v1h-2zM154 176h1v1h-1zM322 176h1v1h-1zM358 176h1v1h-1zM152 173h1v1h-1zM325 173h1v1h-1zM355 173h1v1h-1zM856 375h1v1h-1zM51 90h2v1h-2zM888 443h1v1h-1zM14 105h4v1h-4zM85 105h1v1h-1zM860 381h1v1h-1zM47 92h2v1h-2zM55 92h3v1h-3zM62 92h10v1h-10zM793 327h1v1h-1zM160 183h2v1h-2zM318 183h1v1h-1zM362 183h1v1h-1zM700 248h1v1h-1zM156 179h1v1h-1zM320 179h1v1h-1zM360 179h1v1h-1zM940 502h1v1h-1zM1064 502h2v1h-2zM1167 502h1v1h-1zM1239 502h2v1h-2zM1247 502h3v1h-3zM407 315h1v1h-1zM420 315h1v1h-1zM750 315h1v1h-1zM767 315h5v1h-5zM903 476h1v1h-1zM1085 476h1v1h-1zM1133 476h1v1h-1zM710 270h1v1h-1zM951 510h1v1h-1zM968 510h2v1h-2zM1034 510h4v1h-4zM1174 510h1v1h-1zM1198 510h3v1h-3zM1218 510h2v1h-2zM1228 510h2v1h-2zM149 169h1v1h-1zM329 169h2v1h-2zM350 169h1v1h-1zM907 482h1v1h-1zM1080 482h1v1h-1zM1139 482h2v1h-2zM124 146h2v1h-2zM839 357h2v1h-2zM917 489h2v1h-2zM1076 489h1v1h-1zM1154 489h1v1h-1zM833 353h2v1h-2zM1092 469h2v1h-2zM1129 469h1v1h-1zM869 397h1v1h-1zM409 320h1v1h-1zM417 320h1v1h-1zM779 320h3v1h-3zM876 413h1v1h-1zM934 499h3v1h-3zM1068 499h2v1h-2zM1163 499h1v1h-1zM877 414h1v1h-1zM98 123h1v1h-1zM909 484h1v1h-1zM1079 484h1v1h-1zM1143 484h3v1h-3zM101 128h1v1h-1zM1099 462h1v1h-1zM1124 462h1v1h-1zM113 139h2v1h-2zM153 175h1v1h-1zM323 175h1v1h-1zM357 175h1v1h-1zM847 363h1v1h-1zM396 296h1v1h-1zM732 296h1v1h-1zM102 129h1v1h-1zM183 203h2v1h-2zM298 203h1v1h-1zM470 203h1v1h-1zM478 203h1v1h-1zM987 522h3v1h-3zM993 522h2v1h-2zM886 439h1v1h-1zM858 377h1v1h-1zM890 446h1v1h-1zM820 346h2v1h-2zM920 491h1v1h-1zM1075 491h1v1h-1zM1156 491h1v1h-1zM887 440h1v1h-1zM911 486h2v1h-2zM1078 486h1v1h-1zM1150 486h2v1h-2zM862 383h1v1h-1zM1102 459h1v1h-1zM1122 459h1v1h-1zM913 487h2v1h-2zM1077 487h1v1h-1zM1152 487h1v1h-1zM795 329h1v1h-1zM905 479h1v1h-1zM1082 479h1v1h-1zM1136 479h1v1h-1zM38 99h2v1h-2zM79 99h1v1h-1zM901 473h1v1h-1zM1088 473h1v1h-1zM1131 473h1v1h-1zM904 478h1v1h-1zM1083 478h1v1h-1zM1135 478h1v1h-1zM941 503h1v1h-1zM1063 503h1v1h-1zM1168 503h1v1h-1zM1237 503h2v1h-2zM1250 503h3v1h-3zM127 148h1v1h-1zM983 519h1v1h-1zM998 519h1v1h-1zM809 339h2v1h-2zM868 394h1v1h-1zM40 98h1v1h-1zM78 98h1v1h-1zM188 206h2v1h-2zM293 206h2v1h-2zM466 206h1v1h-1zM482 206h1v1h-1zM705 259h1v1h-1zM10 106h4v1h-4zM86 106h1v1h-1zM100 126h1v1h-1zM90 112h1v1h-1zM104 132h1v1h-1zM123 145h1v1h-1zM838 356h1v1h-1zM860 380h1v1h-1zM864 386h1v1h-1zM242 220h4v1h-4zM449 220h1v1h-1zM493 220h1v1h-1zM513 220h2v1h-2zM528 220h1v1h-1zM553 220h1v1h-1zM671 220h1v1h-1zM44 94h2v1h-2zM74 94h1v1h-1zM686 235h1v1h-1zM410 322h1v1h-1zM416 322h1v1h-1zM785 322h2v1h-2zM404 311h1v1h-1zM422 311h1v1h-1zM748 311h1v1h-1zM175 196h1v1h-1zM309 196h1v1h-1zM368 196h1v1h-1zM902 475h1v1h-1zM1086 475h1v1h-1zM1133 475h1v1h-1zM725 289h1v1h-1zM137 155h1v1h-1zM402 309h1v1h-1zM747 309h1v1h-1zM726 290h1v1h-1zM117 141h2v1h-2zM942 504h1v1h-1zM1062 504h1v1h-1zM1169 504h1v1h-1zM1235 504h2v1h-2zM1253 504h2v1h-2zM111 138h2v1h-2zM687 236h3v1h-3zM901 472h1v1h-1zM1089 472h1v1h-1zM1130 472h1v1h-1zM703 255h1v1h-1zM704 256h1v1h-1zM903 477h1v1h-1zM1084 477h1v1h-1zM1134 477h1v1h-1zM981 518h2v1h-2zM999 518h3v1h-3zM131 152h3v1h-3zM106 134h1v1h-1zM158 181h1v1h-1zM319 181h1v1h-1zM361 181h1v1h-1zM179 200h1v1h-1zM304 200h2v1h-2zM475 200h1v1h-1zM852 369h1v1h-1zM814 342h1v1h-1zM684 232h1v1h-1zM685 233h1v1h-1zM870 399h1v1h-1zM1103 458h2v1h-2zM1121 458h1v1h-1zM401 307h1v1h-1zM745 307h1v1h-1zM139 157h1v1h-1zM843 359h1v1h-1zM728 292h1v1h-1zM844 360h1v1h-1zM836 355h2v1h-2zM894 454h1v1h-1zM1114 454h4v1h-4zM827 351h3v1h-3zM802 335h1v1h-1zM791 325h1v1h-1zM702 253h1v1h-1zM705 258h1v1h-1zM162 184h1v1h-1zM317 184h1v1h-1zM362 184h1v1h-1zM937 500h2v1h-2zM1067 500h1v1h-1zM1164 500h2v1h-2zM1243 500h2v1h-2zM35 100h3v1h-3zM80 100h1v1h-1zM929 497h2v1h-2zM1071 497h1v1h-1zM1161 497h1v1h-1zM90 111h1v1h-1zM712 274h1v1h-1zM923 494h2v1h-2zM1073 494h1v1h-1zM1158 494h1v1h-1zM397 298h1v1h-1zM734 298h1v1h-1zM115 140h2v1h-2zM94 117h1v1h-1zM22 103h8v1h-8zM83 103h1v1h-1zM397 299h1v1h-1zM735 299h1v1h-1zM402 308h1v1h-1zM746 308h1v1h-1zM830 352h3v1h-3zM698 245h1v1h-1zM798 332h1v1h-1zM403 310h1v1h-1zM422 310h1v1h-1zM748 310h1v1h-1zM871 401h1v1h-1zM872 402h1v1h-1zM399 303h1v1h-1zM425 303h1v1h-1zM741 303h2v1h-2zM878 417h1v1h-1zM130 151h1v1h-1zM845 361h1v1h-1zM846 362h1v1h-1zM819 345h1v1h-1zM889 445h1v1h-1zM892 450h1v1h-1zM812 341h2v1h-2zM157 180h1v1h-1zM320 180h1v1h-1zM360 180h1v1h-1zM92 114h1v1h-1zM398 300h1v1h-1zM736 300h2v1h-2zM172 193h1v1h-1zM311 193h1v1h-1zM852 368h1v1h-1zM126 147h1v1h-1zM1097 464h1v1h-1zM1126 464h1v1h-1zM841 358h2v1h-2zM178 199h1v1h-1zM306 199h1v1h-1zM696 241h1v1h-1zM807 338h2v1h-2zM921 492h1v1h-1zM1074 492h1v1h-1zM1157 492h1v1h-1zM800 334h2v1h-2zM870 398h1v1h-1zM877 415h1v1h-1zM401 306h1v1h-1zM745 306h1v1h-1zM927 496h2v1h-2zM1072 496h1v1h-1zM1160 496h1v1h-1zM405 312h1v1h-1zM749 312h1v1h-1zM102 130h1v1h-1zM164 186h2v1h-2zM316 186h1v1h-1zM363 186h1v1h-1zM103 131h1v1h-1zM155 178h1v1h-1zM321 178h1v1h-1zM359 178h1v1h-1zM887 441h1v1h-1zM690 237h2v1h-2zM862 384h1v1h-1zM445 229h1v1h-1zM681 229h1v1h-1zM692 238h2v1h-2zM863 385h1v1h-1zM866 390h1v1h-1zM925 495h2v1h-2zM1072 495h1v1h-1zM1159 495h1v1h-1zM905 480h1v1h-1zM1082 480h1v1h-1zM1137 480h1v1h-1zM136 154h1v1h-1zM698 244h1v1h-1zM817 344h2v1h-2zM986 521h1v1h-1zM995 521h1v1h-1zM977 516h2v1h-2zM1006 516h4v1h-4zM889 444h1v1h-1zM864 387h1v1h-1zM682 230h1v1h-1zM794 328h1v1h-1zM805 337h2v1h-2zM865 388h1v1h-1zM683 231h1v1h-1zM176 197h1v1h-1zM308 197h1v1h-1zM368 197h1v1h-1zM409 319h1v1h-1zM418 319h1v1h-1zM755 319h7v1h-7zM777 319h2v1h-2zM826 350h1v1h-1zM789 324h2v1h-2zM704 257h1v1h-1zM167 188h1v1h-1zM314 188h1v1h-1zM364 188h1v1h-1zM711 273h1v1h-1zM848 364h1v1h-1zM173 194h1v1h-1zM310 194h1v1h-1zM396 297h1v1h-1zM733 297h1v1h-1zM915 488h2v1h-2zM1077 488h1v1h-1zM1153 488h1v1h-1zM822 347h1v1h-1zM823 348h1v1h-1zM1101 460h1v1h-1zM1123 460h1v1h-1zM685 234h1v1h-1zM796 330h1v1h-1zM815 343h2v1h-2zM128 149h1v1h-1zM129 150h1v1h-1zM884 433h1v1h-1zM46 93h1v1h-1zM72 93h2v1h-2zM891 449h1v1h-1zM803 336h2v1h-2zM706 260h1v1h-1zM712 275h1v1h-1zM91 113h1v1h-1zM713 276h1v1h-1zM105 133h1v1h-1zM850 366h1v1h-1zM851 367h1v1h-1zM854 372h1v1h-1zM824 349h2v1h-2zM694 239h1v1h-1zM695 240h1v1h-1zM872 403h1v1h-1zM163 185h1v1h-1zM316 185h1v1h-1zM363 185h1v1h-1zM43 95h1v1h-1zM75 95h1v1h-1zM138 156h1v1h-1zM119 142h1v1h-1zM835 354h1v1h-1zM892 451h1v1h-1zM893 452h1v1h-1zM159 182h1v1h-1zM318 182h1v1h-1zM361 182h1v1h-1zM166 187h1v1h-1zM315 187h1v1h-1zM364 187h1v1h-1zM711 272h1v1h-1zM33 101h2v1h-2zM81 101h1v1h-1zM93 115h1v1h-1zM107 135h1v1h-1zM696 242h1v1h-1zM697 243h1v1h-1zM922 493h1v1h-1zM1074 493h1v1h-1zM1157 493h1v1h-1zM168 189h1v1h-1zM314 189h1v1h-1zM365 189h1v1h-1zM405 313h1v1h-1zM749 313h1v1h-1zM140 158h1v1h-1zM141 159h1v1h-1zM792 326h1v1h-1zM891 448h1v1h-1zM866 391h1v1h-1zM95 118h1v1h-1zM96 119h1v1h-1zM406 314h1v1h-1zM750 314h1v1h-1zM99 124h1v1h-1zM854 371h1v1h-1zM142 161h1v1h-1zM861 382h1v1h-1zM865 389h1v1h-1zM719 283h1v1h-1zM144 163h1v1h-1zM122 144h1v1h-1zM715 280h1v1h-1zM1096 466h1v1h-1zM1127 466h1v1h-1zM145 164h1v1h-1zM849 365h1v1h-1zM177 198h1v1h-1zM307 198h1v1h-1zM906 481h1v1h-1zM1081 481h1v1h-1zM1138 481h1v1h-1zM874 407h1v1h-1zM110 137h1v1h-1zM884 434h1v1h-1zM42 96h1v1h-1zM76 96h1v1h-1zM706 261h1v1h-1zM713 277h1v1h-1zM146 166h1v1h-1zM714 278h1v1h-1zM699 247h1v1h-1zM893 453h1v1h-1zM93 116h1v1h-1zM853 370h1v1h-1zM857 376h1v1h-1zM797 331h1v1h-1zM701 250h1v1h-1zM708 266h1v1h-1zM722 286h1v1h-1zM141 160h1v1h-1zM723 287h1v1h-1zM811 340h1v1h-1zM867 393h1v1h-1zM96 120h1v1h-1zM855 373h1v1h-1zM856 374h1v1h-1zM859 379h1v1h-1zM888 442h1v1h-1zM699 246h1v1h-1zM799 333h1v1h-1zM724 288h1v1h-1zM174 195h1v1h-1zM309 195h1v1h-1zM143 162h1v1h-1zM869 396h1v1h-1zM876 412h1v1h-1zM97 121h1v1h-1zM731 295h1v1h-1zM98 122h1v1h-1zM101 127h1v1h-1zM886 438h1v1h-1zM708 265h1v1h-1zM145 165h1v1h-1zM867 392h1v1h-1zM874 408h1v1h-1zM718 282h1v1h-1zM89 110h1v1h-1zM100 125h1v1h-1zM714 279h1v1h-1z" fill="#ff0000"/>
<path d="M936 507h1v3h-1zM858 408h1v4h-1zM460 253h1v4h-1zM1202 483h1v3h-1zM385 337h1v7h-1zM447 167h1v7h-1zM453 213h1v8h-1zM369 251h1v3h-1zM1073 454h1v4h-1zM590 217h1v4h-1zM379 301h1v6h-1zM480 202h1v4h-1zM848 371h1v4h-1zM372 262h1v4h-1zM143 173h1v3h-1zM413 298h1v7h-1zM1189 520h1v3h-1zM431 164h1v8h-1zM851 382h1v3h-1zM286 194h1v3h-1zM709 298h1v6h-1zM472 237h1v6h-1zM1003 515h1v3h-1zM865 435h1v4h-1zM666 227h1v3h-1zM416 282h1v4h-1zM450 190h1v8h-1zM456 234h1v5h-1zM1078 436h1v3h-1zM494 199h1v3h-1zM427 203h1v9h-1zM365 232h1v5h-1zM391 373h1v4h-1zM283 202h1v3h-1zM475 221h1v4h-1zM421 251h1v8h-1zM495 202h1v3h-1zM368 247h1v4h-1zM1069 471h1v4h-1zM712 314h1v3h-1zM498 210h1v3h-1zM467 261h1v3h-1zM589 221h1v4h-1zM61 102h1v3h-1zM570 207h1v4h-1zM407 327h1v5h-1zM861 420h1v4h-1zM277 221h1v3h-1zM449 182h1v8h-1zM509 233h1v3h-1zM146 181h1v3h-1zM1219 510h1v5h-1zM1188 523h1v3h-1zM573 218h1v3h-1zM381 313h1v6h-1zM1064 490h1v4h-1zM399 368h1v5h-1zM375 275h1v6h-1zM711 310h1v4h-1zM53 80h1v4h-1zM426 212h1v8h-1zM1076 442h1v3h-1zM357 199h1v3h-1zM415 286h1v6h-1zM1068 475h1v4h-1zM452 206h1v7h-1zM1215 493h1v4h-1zM403 350h1v6h-1zM1067 479h1v4h-1zM1192 511h1v3h-1zM420 259h1v8h-1zM419 267h1v6h-1zM1094 446h1v3h-1zM455 228h1v6h-1zM1071 463h1v4h-1zM667 230h1v3h-1zM866 439h1v3h-1zM430 172h1v10h-1zM1063 494h1v3h-1zM1001 520h1v3h-1zM1062 497h1v3h-1zM383 325h1v6h-1zM445 156h1v5h-1zM470 249h1v4h-1zM377 288h1v6h-1zM414 292h1v6h-1zM280 212h1v4h-1zM1075 445h1v4h-1zM425 220h1v8h-1zM859 412h1v4h-1zM429 182h1v11h-1zM461 257h1v4h-1zM473 231h1v6h-1zM569 203h1v4h-1zM360 209h1v4h-1zM424 228h1v8h-1zM363 221h1v5h-1zM1199 493h1v3h-1zM387 350h1v6h-1zM448 174h1v8h-1zM380 307h1v6h-1zM1218 506h1v4h-1zM852 385h1v4h-1zM1232 527h1v3h-1zM405 338h1v6h-1zM1161 504h1v3h-1zM151 195h1v3h-1zM855 396h1v4h-1zM1061 500h1v3h-1zM154 205h1v4h-1zM457 239h1v5h-1zM458 244h1v5h-1zM451 198h1v8h-1zM356 196h1v3h-1zM393 380h1v3h-1zM434 151h1v4h-1zM703 276h1v3h-1zM428 193h1v10h-1zM500 216h1v3h-1zM1074 449h1v5h-1zM401 360h1v4h-1zM707 287h1v5h-1zM1066 483h1v4h-1zM454 221h1v7h-1zM862 424h1v4h-1zM880 478h1v3h-1zM389 362h1v5h-1zM575 225h1v3h-1zM376 281h1v7h-1zM382 319h1v6h-1zM1223 529h1v3h-1zM444 150h1v6h-1zM54 84h1v3h-1zM568 199h1v4h-1zM359 205h1v4h-1zM1235 518h1v3h-1zM471 243h1v6h-1zM150 192h1v3h-1zM418 273h1v4h-1zM422 243h1v8h-1zM1077 439h1v3h-1zM871 454h1v3h-1zM702 273h1v3h-1zM875 465h1v3h-1zM1201 486h1v4h-1zM432 160h1v4h-1zM1072 458h1v5h-1zM364 226h1v6h-1zM443 147h1v3h-1zM574 221h1v4h-1zM459 249h1v4h-1zM60 99h1v3h-1zM708 292h1v6h-1zM148 187h1v3h-1zM867 442h1v3h-1zM390 367h1v6h-1zM411 311h1v5h-1zM870 451h1v3h-1zM1191 514h1v3h-1zM63 108h1v3h-1zM710 304h1v6h-1zM1221 520h1v4h-1zM1070 467h1v4h-1zM856 400h1v4h-1zM1195 502h1v3h-1zM279 216h1v3h-1zM1065 487h1v3h-1zM1004 512h1v3h-1zM477 213h1v4h-1zM1240 500h1v4h-1zM404 344h1v6h-1zM366 237h1v6h-1zM1194 505h1v3h-1zM396 381h1v4h-1zM571 211h1v3h-1zM362 217h1v4h-1zM728 315h1v3h-1zM282 205h1v4h-1zM378 294h1v7h-1zM408 323h1v4h-1zM1234 521h1v3h-1zM882 483h1v3h-1zM412 305h1v6h-1zM1222 524h1v5h-1zM1033 508h1v3h-1zM857 404h1v4h-1zM462 261h1v4h-1zM361 213h1v4h-1zM479 206h1v3h-1zM1242 493h1v4h-1zM469 253h1v4h-1zM367 243h1v4h-1zM474 225h1v6h-1zM1237 511h1v3h-1zM877 470h1v3h-1zM501 219h1v3h-1zM423 236h1v7h-1zM863 428h1v4h-1zM406 332h1v6h-1zM284 199h1v3h-1zM52 77h1v3h-1zM468 257h1v4h-1zM55 87h1v3h-1zM433 155h1v5h-1zM482 195h1v4h-1zM1236 514h1v4h-1zM845 363h1v3h-1zM386 344h1v6h-1zM1217 501h1v5h-1zM400 364h1v4h-1zM373 266h1v5h-1zM492 194h1v3h-1zM392 377h1v3h-1zM872 457h1v3h-1zM496 205h1v3h-1zM916 498h1v3h-1zM388 356h1v6h-1zM854 392h1v4h-1zM476 217h1v4h-1zM153 202h1v3h-1zM1060 503h1v3h-1zM355 193h1v3h-1zM938 512h1v3h-1zM358 202h1v3h-1zM371 258h1v4h-1zM1007 504h1v3h-1zM1216 497h1v4h-1zM1200 490h1v3h-1zM864 432h1v3h-1zM398 373h1v4h-1zM1095 449h1v3h-1zM384 331h1v6h-1zM435 147h1v4h-1zM446 161h1v6h-1zM1121 479h1v3h-1zM281 209h1v3h-1zM860 416h1v4h-1zM402 356h1v4h-1zM374 271h1v4h-1zM853 389h1v3h-1zM152 198h1v4h-1zM370 254h1v4h-1zM704 279h1v3h-1zM714 319h1v3h-1zM62 105h1v3h-1zM147 184h1v3h-1zM1163 509h1v3h-1zM1239 504h1v3h-1zM1193 508h1v3h-1zM395 385h1v3h-1zM499 213h1v3h-1zM502 222h1v3h-1zM879 475h1v3h-1zM417 277h1v5h-1zM847 368h1v3h-1zM850 378h1v4h-1zM1233 524h1v3h-1zM701 269h1v4h-1zM730 308h1v3h-1zM588 225h1v4h-1zM478 209h1v4h-1zM397 377h1v4h-1zM410 316h1v4h-1zM918 493h1v3h-1zM21 103h1v3h-1zM729 311h1v4h-1zM849 375h1v3h-1zM869 448h1v3h-1zM700 266h1v3h-1zM591 214h1v3h-1zM481 199h1v3h-1zM572 214h1v4h-1zM1220 515h1v5h-1zM939 515h1v3h-1zM1213 488h1v3h-1zM706 284h1v3h-1zM1092 441h1v3h-1zM868 445h1v3h-1zM1238 507h1v4h-1zM1006 507h1v3h-1zM394 383h1v3h-1zM874 462h1v3h-1zM664 222h1v3h-1zM1241 497h1v3h-1zM59 96h1v3h-1zM144 176h1v3h-1zM409 320h1v3h-1zM1190 517h1v3h-1zM881 482h1v1h-1zM1122 482h1v1h-1zM1203 482h1v1h-1zM1210 482h1v1h-1zM24 97h1v1h-1zM188 205h1v1h-1zM197 205h2v1h-2zM250 205h1v1h-1zM252 205h2v1h-2zM548 205h1v1h-1zM596 205h1v1h-1zM605 205h1v1h-1zM628 205h2v1h-2zM632 205h1v1h-1zM25 95h1v1h-1zM58 95h1v1h-1zM522 235h6v1h-6zM579 235h1v1h-1zM584 235h1v1h-1zM669 235h1v1h-1zM937 511h1v1h-1zM960 511h1v1h-1zM973 511h1v1h-1zM1005 511h1v1h-1zM1034 511h1v1h-1zM1057 511h1v1h-1zM762 327h1v1h-1zM768 327h1v1h-1zM783 327h2v1h-2zM942 523h1v1h-1zM945 523h2v1h-2zM950 523h2v1h-2zM981 523h1v1h-1zM1000 523h1v1h-1zM1169 523h1v1h-1zM937 510h1v1h-1zM960 510h1v1h-1zM973 510h1v1h-1zM1005 510h1v1h-1zM1057 510h1v1h-1zM183 207h3v1h-3zM199 207h1v1h-1zM249 207h1v1h-1zM255 207h1v1h-1zM547 207h1v1h-1zM595 207h1v1h-1zM606 207h1v1h-1zM625 207h2v1h-2zM633 207h1v1h-1zM182 208h1v1h-1zM200 208h1v1h-1zM248 208h1v1h-1zM256 208h1v1h-1zM497 208h1v1h-1zM547 208h1v1h-1zM594 208h1v1h-1zM607 208h1v1h-1zM619 208h6v1h-6zM633 208h1v1h-1zM160 217h2v1h-2zM166 217h1v1h-1zM204 217h1v1h-1zM235 217h3v1h-3zM262 217h1v1h-1zM542 217h1v1h-1zM661 217h1v1h-1zM463 265h3v1h-3zM699 265h1v1h-1zM163 219h1v1h-1zM205 219h1v1h-1zM232 219h2v1h-2zM263 219h1v1h-1zM278 219h1v1h-1zM541 219h1v1h-1zM662 219h1v1h-1zM902 497h4v1h-4zM908 497h1v1h-1zM917 497h1v1h-1zM929 497h1v1h-1zM1011 497h1v1h-1zM1026 497h1v1h-1zM1131 497h2v1h-2zM1145 497h1v1h-1zM1157 497h1v1h-1zM1198 497h1v1h-1zM1255 497h1v1h-1zM887 493h2v1h-2zM897 493h1v1h-1zM925 493h1v1h-1zM1014 493h1v1h-1zM1022 493h1v1h-1zM1128 493h1v1h-1zM1148 493h1v1h-1zM1154 493h1v1h-1zM1253 493h1v1h-1zM206 220h1v1h-1zM230 220h2v1h-2zM263 220h1v1h-1zM278 220h1v1h-1zM541 220h1v1h-1zM663 220h1v1h-1zM886 492h1v1h-1zM889 492h2v1h-2zM897 492h1v1h-1zM919 492h1v1h-1zM924 492h1v1h-1zM1014 492h1v1h-1zM1021 492h1v1h-1zM1128 492h1v1h-1zM1148 492h1v1h-1zM1154 492h1v1h-1zM1214 492h1v1h-1zM1243 492h1v1h-1zM1252 492h1v1h-1zM8 120h1v1h-1zM70 120h1v1h-1zM73 120h2v1h-2zM76 120h2v1h-2zM156 212h1v1h-1zM174 212h1v1h-1zM202 212h1v1h-1zM245 212h1v1h-1zM258 212h1v1h-1zM545 212h1v1h-1zM592 212h1v1h-1zM610 212h1v1h-1zM612 212h2v1h-2zM636 212h2v1h-2zM645 212h2v1h-2zM649 212h2v1h-2zM653 212h2v1h-2zM658 212h2v1h-2zM898 494h1v1h-1zM926 494h1v1h-1zM1013 494h1v1h-1zM1022 494h1v1h-1zM1129 494h1v1h-1zM1147 494h1v1h-1zM1155 494h1v1h-1zM1253 494h1v1h-1zM139 166h1v1h-1zM313 166h1v1h-1zM340 166h1v1h-1zM156 211h1v1h-1zM175 211h3v1h-3zM201 211h1v1h-1zM246 211h1v1h-1zM258 211h1v1h-1zM545 211h1v1h-1zM593 211h1v1h-1zM609 211h1v1h-1zM614 211h1v1h-1zM635 211h1v1h-1zM647 211h2v1h-2zM655 211h3v1h-3zM1093 445h1v1h-1zM984 528h1v1h-1zM998 528h1v1h-1zM1172 528h1v1h-1zM1185 528h2v1h-2zM878 473h1v1h-1zM1116 473h2v1h-2zM211 228h1v1h-1zM222 228h1v1h-1zM268 228h1v1h-1zM274 228h1v1h-1zM506 228h1v1h-1zM532 228h1v1h-1zM576 228h1v1h-1zM810 362h1v1h-1zM814 362h10v1h-10zM844 362h1v1h-1zM878 474h1v1h-1zM1118 474h1v1h-1zM1110 470h1v1h-1zM985 530h1v1h-1zM996 530h1v1h-1zM1173 530h1v1h-1zM1181 530h2v1h-2zM1231 530h1v1h-1zM159 216h1v1h-1zM167 216h5v1h-5zM204 216h1v1h-1zM238 216h3v1h-3zM261 216h1v1h-1zM543 216h1v1h-1zM661 216h1v1h-1zM1111 471h3v1h-3zM909 500h1v1h-1zM932 500h1v1h-1zM1009 500h1v1h-1zM1028 500h1v1h-1zM1136 500h1v1h-1zM1142 500h1v1h-1zM1159 500h1v1h-1zM1196 500h1v1h-1zM1258 500h1v1h-1zM140 167h1v1h-1zM313 167h1v1h-1zM340 167h1v1h-1zM23 99h1v1h-1zM961 508h1v1h-1zM967 508h5v1h-5zM1058 508h1v1h-1zM1162 508h1v1h-1zM731 307h1v1h-1zM736 307h2v1h-2zM911 503h3v1h-3zM934 503h1v1h-1zM1008 503h1v1h-1zM1030 503h1v1h-1zM1138 503h1v1h-1zM1140 503h1v1h-1zM1160 503h1v1h-1zM1263 503h1v1h-1zM941 521h1v1h-1zM953 521h1v1h-1zM979 521h1v1h-1zM1168 521h1v1h-1zM959 512h1v1h-1zM974 512h1v1h-1zM1034 512h1v1h-1zM1056 512h1v1h-1zM1164 512h1v1h-1zM899 496h3v1h-3zM906 496h2v1h-2zM917 496h1v1h-1zM928 496h1v1h-1zM1012 496h1v1h-1zM1024 496h2v1h-2zM1130 496h1v1h-1zM1145 496h1v1h-1zM1156 496h1v1h-1zM1198 496h1v1h-1zM1254 496h1v1h-1zM983 527h1v1h-1zM998 527h1v1h-1zM1171 527h1v1h-1zM1187 527h1v1h-1zM885 490h1v1h-1zM893 490h2v1h-2zM896 490h1v1h-1zM1016 490h2v1h-2zM1020 490h1v1h-1zM1126 490h1v1h-1zM1150 490h1v1h-1zM1152 490h1v1h-1zM1245 490h2v1h-2zM1251 490h1v1h-1zM115 159h3v1h-3zM120 159h2v1h-2zM127 159h2v1h-2zM136 159h1v1h-1zM319 159h1v1h-1zM333 159h1v1h-1zM511 239h2v1h-2zM517 239h1v1h-1zM671 239h1v1h-1zM940 518h1v1h-1zM956 518h1v1h-1zM977 518h1v1h-1zM1002 518h1v1h-1zM1039 518h7v1h-7zM1050 518h2v1h-2zM1167 518h1v1h-1zM207 222h1v1h-1zM226 222h1v1h-1zM264 222h1v1h-1zM540 222h1v1h-1zM305 176h1v1h-1zM346 176h1v1h-1zM108 154h1v1h-1zM323 154h3v1h-3zM328 154h1v1h-1zM206 221h1v1h-1zM227 221h3v1h-3zM264 221h1v1h-1zM540 221h1v1h-1zM663 221h1v1h-1zM189 204h1v1h-1zM195 204h2v1h-2zM251 204h1v1h-1zM549 204h1v1h-1zM597 204h1v1h-1zM604 204h1v1h-1zM630 204h2v1h-2zM303 178h1v1h-1zM347 178h1v1h-1zM719 325h2v1h-2zM760 325h1v1h-1zM769 325h1v1h-1zM779 325h2v1h-2zM293 183h1v1h-1zM350 183h1v1h-1zM725 321h1v1h-1zM755 321h1v1h-1zM771 321h3v1h-3zM910 501h1v1h-1zM915 501h1v1h-1zM932 501h1v1h-1zM1009 501h1v1h-1zM1029 501h1v1h-1zM1137 501h1v1h-1zM1141 501h1v1h-1zM1159 501h1v1h-1zM1196 501h1v1h-1zM1259 501h2v1h-2zM208 224h1v1h-1zM225 224h1v1h-1zM265 224h1v1h-1zM276 224h1v1h-1zM535 224h3v1h-3zM510 236h1v1h-1zM519 236h3v1h-3zM580 236h2v1h-2zM584 236h1v1h-1zM669 236h1v1h-1zM873 461h1v1h-1zM1102 461h1v1h-1zM805 354h1v1h-1zM831 354h1v1h-1zM209 225h1v1h-1zM224 225h1v1h-1zM266 225h1v1h-1zM276 225h1v1h-1zM503 225h1v1h-1zM534 225h1v1h-1zM665 225h1v1h-1zM934 504h1v1h-1zM1031 504h1v1h-1zM1139 504h1v1h-1zM1264 504h2v1h-2zM214 230h1v1h-1zM218 230h2v1h-2zM269 230h1v1h-1zM273 230h1v1h-1zM507 230h1v1h-1zM530 230h1v1h-1zM577 230h1v1h-1zM587 230h1v1h-1zM1106 467h1v1h-1zM809 360h1v1h-1zM825 360h1v1h-1zM843 360h1v1h-1zM909 499h1v1h-1zM931 499h1v1h-1zM1010 499h1v1h-1zM1028 499h1v1h-1zM1135 499h1v1h-1zM1143 499h1v1h-1zM1158 499h1v1h-1zM1197 499h1v1h-1zM1257 499h1v1h-1zM749 314h1v1h-1zM959 513h1v1h-1zM975 513h1v1h-1zM1035 513h1v1h-1zM1056 513h1v1h-1zM1164 513h1v1h-1zM941 520h1v1h-1zM954 520h1v1h-1zM978 520h1v1h-1zM1168 520h1v1h-1zM111 157h2v1h-2zM123 157h2v1h-2zM131 157h3v1h-3zM321 157h1v1h-1zM331 157h1v1h-1zM158 214h1v1h-1zM173 214h1v1h-1zM203 214h1v1h-1zM243 214h1v1h-1zM260 214h1v1h-1zM544 214h1v1h-1zM639 214h3v1h-3zM660 214h1v1h-1zM290 186h1v1h-1zM351 186h1v1h-1zM155 210h1v1h-1zM178 210h2v1h-2zM201 210h1v1h-1zM247 210h1v1h-1zM257 210h1v1h-1zM546 210h1v1h-1zM593 210h1v1h-1zM609 210h1v1h-1zM615 210h2v1h-2zM634 210h1v1h-1zM89 132h1v1h-1zM118 160h2v1h-2zM136 160h1v1h-1zM318 160h1v1h-1zM334 160h1v1h-1zM100 142h1v1h-1zM438 142h1v1h-1zM440 142h1v1h-1zM157 213h1v1h-1zM173 213h1v1h-1zM202 213h1v1h-1zM244 213h1v1h-1zM259 213h1v1h-1zM544 213h1v1h-1zM592 213h1v1h-1zM611 213h1v1h-1zM638 213h1v1h-1zM642 213h3v1h-3zM651 213h2v1h-2zM659 213h1v1h-1zM186 206h2v1h-2zM199 206h1v1h-1zM250 206h1v1h-1zM254 206h1v1h-1zM548 206h1v1h-1zM596 206h1v1h-1zM606 206h1v1h-1zM627 206h1v1h-1zM632 206h1v1h-1zM215 231h3v1h-3zM270 231h1v1h-1zM272 231h1v1h-1zM508 231h1v1h-1zM530 231h1v1h-1zM577 231h1v1h-1zM586 231h1v1h-1zM14 115h1v1h-1zM66 115h1v1h-1zM149 190h1v1h-1zM288 190h1v1h-1zM353 190h1v1h-1zM487 190h2v1h-2zM561 190h3v1h-3zM36 76h2v1h-2zM51 76h1v1h-1zM138 164h1v1h-1zM315 164h1v1h-1zM338 164h1v1h-1zM554 196h1v1h-1zM566 196h1v1h-1zM287 192h1v1h-1zM354 192h1v1h-1zM484 192h2v1h-2zM491 192h1v1h-1zM558 192h1v1h-1zM564 192h1v1h-1zM987 534h3v1h-3zM992 534h2v1h-2zM103 147h1v1h-1zM12 116h2v1h-2zM66 116h1v1h-1zM106 152h1v1h-1zM271 232h1v1h-1zM508 232h1v1h-1zM529 232h1v1h-1zM578 232h1v1h-1zM586 232h1v1h-1zM107 153h1v1h-1zM326 153h2v1h-2zM793 337h1v1h-1zM956 517h1v1h-1zM977 517h1v1h-1zM1038 517h1v1h-1zM1046 517h4v1h-4zM1052 517h1v1h-1zM1166 517h1v1h-1zM715 322h1v1h-1zM724 322h1v1h-1zM756 322h2v1h-2zM770 322h1v1h-1zM774 322h2v1h-2zM687 260h3v1h-3zM696 260h1v1h-1zM1104 463h1v1h-1zM940 519h1v1h-1zM955 519h1v1h-1zM978 519h1v1h-1zM1002 519h1v1h-1zM1167 519h1v1h-1zM295 181h3v1h-3zM349 181h1v1h-1zM697 261h1v1h-1zM876 469h1v1h-1zM1108 469h2v1h-2zM713 317h1v1h-1zM751 317h1v1h-1zM910 502h1v1h-1zM914 502h2v1h-2zM933 502h1v1h-1zM1008 502h1v1h-1zM1030 502h1v1h-1zM1137 502h1v1h-1zM1141 502h1v1h-1zM1160 502h1v1h-1zM1261 502h2v1h-2zM713 318h1v1h-1zM727 318h1v1h-1zM752 318h1v1h-1zM886 491h1v1h-1zM891 491h2v1h-2zM896 491h1v1h-1zM919 491h5v1h-5zM1015 491h1v1h-1zM1021 491h1v1h-1zM1127 491h1v1h-1zM1149 491h1v1h-1zM1153 491h1v1h-1zM1214 491h1v1h-1zM1243 491h2v1h-2zM1252 491h1v1h-1zM88 130h1v1h-1zM1082 430h1v1h-1zM1085 430h2v1h-2zM763 328h5v1h-5zM785 328h2v1h-2zM1093 444h1v1h-1zM47 69h1v1h-1zM935 505h1v1h-1zM963 505h1v1h-1zM1031 505h1v1h-1zM1266 505h1v1h-1zM46 70h1v1h-1zM48 70h1v1h-1zM717 324h2v1h-2zM721 324h2v1h-2zM759 324h1v1h-1zM769 324h1v1h-1zM778 324h1v1h-1zM3 121h5v1h-5zM71 121h2v1h-2zM78 121h1v1h-1zM715 323h2v1h-2zM723 323h1v1h-1zM758 323h1v1h-1zM770 323h1v1h-1zM776 323h2v1h-2zM731 306h5v1h-5zM139 165h1v1h-1zM314 165h1v1h-1zM339 165h1v1h-1zM898 495h1v1h-1zM927 495h1v1h-1zM1012 495h1v1h-1zM1023 495h1v1h-1zM1130 495h1v1h-1zM1146 495h1v1h-1zM1156 495h1v1h-1zM1254 495h1v1h-1zM983 526h1v1h-1zM999 526h1v1h-1zM1171 526h1v1h-1zM1187 526h1v1h-1zM511 238h1v1h-1zM517 238h1v1h-1zM583 238h1v1h-1zM670 238h1v1h-1zM20 106h1v1h-1zM17 112h1v1h-1zM64 112h1v1h-1zM137 162h1v1h-1zM317 162h1v1h-1zM336 162h1v1h-1zM513 240h2v1h-2zM516 240h1v1h-1zM672 240h1v1h-1zM16 113h1v1h-1zM65 113h1v1h-1zM1089 436h1v1h-1zM138 163h1v1h-1zM316 163h1v1h-1zM337 163h1v1h-1zM306 175h1v1h-1zM345 175h1v1h-1zM190 203h1v1h-1zM193 203h2v1h-2zM549 203h1v1h-1zM598 203h1v1h-1zM604 203h1v1h-1zM631 203h1v1h-1zM984 529h1v1h-1zM997 529h1v1h-1zM1173 529h1v1h-1zM1183 529h2v1h-2zM212 229h2v1h-2zM220 229h2v1h-2zM269 229h1v1h-1zM273 229h1v1h-1zM507 229h1v1h-1zM531 229h1v1h-1zM576 229h1v1h-1zM587 229h1v1h-1zM698 263h1v1h-1zM1106 466h1v1h-1zM1096 452h1v1h-1zM942 522h1v1h-1zM947 522h3v1h-3zM952 522h1v1h-1zM980 522h1v1h-1zM1169 522h1v1h-1zM957 516h1v1h-1zM976 516h1v1h-1zM1037 516h1v1h-1zM1053 516h1v1h-1zM1166 516h1v1h-1zM483 194h1v1h-1zM555 194h1v1h-1zM565 194h1v1h-1zM191 202h2v1h-2zM550 202h1v1h-1zM598 202h1v1h-1zM602 202h2v1h-2zM686 259h1v1h-1zM690 259h6v1h-6zM1204 480h2v1h-2zM1208 480h1v1h-1zM727 319h1v1h-1zM753 319h1v1h-1zM726 320h1v1h-1zM754 320h1v1h-1zM86 126h1v1h-1zM89 131h1v1h-1zM19 108h1v1h-1zM962 507h1v1h-1zM966 507h1v1h-1zM1032 507h1v1h-1zM1059 507h1v1h-1zM1162 507h1v1h-1zM285 198h1v1h-1zM493 198h1v1h-1zM552 198h1v1h-1zM567 198h1v1h-1zM43 72h1v1h-1zM49 72h1v1h-1zM41 73h2v1h-2zM50 73h1v1h-1zM155 209h1v1h-1zM180 209h2v1h-2zM200 209h1v1h-1zM248 209h1v1h-1zM256 209h1v1h-1zM497 209h1v1h-1zM546 209h1v1h-1zM594 209h1v1h-1zM608 209h1v1h-1zM617 209h2v1h-2zM634 209h1v1h-1zM676 247h1v1h-1zM554 195h1v1h-1zM566 195h1v1h-1zM679 252h1v1h-1zM935 506h1v1h-1zM962 506h1v1h-1zM964 506h2v1h-2zM1032 506h1v1h-1zM1059 506h1v1h-1zM1267 506h1v1h-1zM807 357h1v1h-1zM827 357h1v1h-1zM835 357h2v1h-2zM145 179h1v1h-1zM301 179h2v1h-2zM348 179h1v1h-1zM1081 432h1v1h-1zM1087 432h1v1h-1zM1080 433h1v1h-1zM1088 433h1v1h-1zM761 326h1v1h-1zM768 326h1v1h-1zM781 326h2v1h-2zM142 172h1v1h-1zM309 172h1v1h-1zM343 172h1v1h-1zM528 233h1v1h-1zM578 233h1v1h-1zM585 233h1v1h-1zM668 233h1v1h-1zM1120 478h1v1h-1zM1207 478h1v1h-1zM908 498h1v1h-1zM930 498h1v1h-1zM1010 498h1v1h-1zM1027 498h1v1h-1zM1133 498h2v1h-2zM1144 498h1v1h-1zM1158 498h1v1h-1zM1197 498h1v1h-1zM1256 498h1v1h-1zM876 468h1v1h-1zM1107 468h1v1h-1zM158 215h1v1h-1zM172 215h1v1h-1zM203 215h1v1h-1zM241 215h2v1h-2zM260 215h1v1h-1zM543 215h1v1h-1zM660 215h1v1h-1zM1083 429h2v1h-2zM884 489h1v1h-1zM895 489h1v1h-1zM1018 489h1v1h-1zM1020 489h1v1h-1zM1126 489h1v1h-1zM1150 489h1v1h-1zM1152 489h1v1h-1zM1247 489h5v1h-5zM113 158h2v1h-2zM122 158h1v1h-1zM125 158h2v1h-2zM129 158h2v1h-2zM134 158h2v1h-2zM320 158h1v1h-1zM332 158h1v1h-1zM101 144h1v1h-1zM437 144h1v1h-1zM441 144h1v1h-1zM28 91h1v1h-1zM56 91h1v1h-1zM294 182h1v1h-1zM349 182h1v1h-1zM803 352h1v1h-1zM44 71h2v1h-2zM48 71h1v1h-1zM290 187h1v1h-1zM352 187h1v1h-1zM677 249h1v1h-1zM804 353h1v1h-1zM1122 483h1v1h-1zM1210 483h1v1h-1zM24 98h1v1h-1zM739 309h3v1h-3zM745 309h2v1h-2zM1079 435h1v1h-1zM1089 435h1v1h-1zM109 155h1v1h-1zM322 155h1v1h-1zM329 155h1v1h-1zM140 168h1v1h-1zM312 168h1v1h-1zM341 168h1v1h-1zM883 487h1v1h-1zM1124 487h1v1h-1zM1212 487h1v1h-1zM207 223h1v1h-1zM226 223h1v1h-1zM265 223h1v1h-1zM538 223h2v1h-2zM1119 476h1v1h-1zM23 100h1v1h-1zM808 359h1v1h-1zM825 359h1v1h-1zM839 359h5v1h-5zM805 355h1v1h-1zM830 355h1v1h-1zM832 355h2v1h-2zM141 170h1v1h-1zM310 170h1v1h-1zM342 170h1v1h-1zM94 137h1v1h-1zM32 82h1v1h-1zM510 237h1v1h-1zM518 237h1v1h-1zM582 237h2v1h-2zM670 237h1v1h-1zM15 114h1v1h-1zM65 114h1v1h-1zM791 335h1v1h-1zM291 185h1v1h-1zM351 185h1v1h-1zM792 336h1v1h-1zM209 226h1v1h-1zM224 226h1v1h-1zM266 226h1v1h-1zM275 226h1v1h-1zM503 226h1v1h-1zM533 226h1v1h-1zM665 226h1v1h-1zM1206 479h1v1h-1zM1208 479h1v1h-1zM806 356h1v1h-1zM828 356h2v1h-2zM834 356h1v1h-1zM1114 472h2v1h-2zM676 246h1v1h-1zM149 191h1v1h-1zM288 191h1v1h-1zM354 191h1v1h-1zM486 191h1v1h-1zM489 191h2v1h-2zM559 191h2v1h-2zM564 191h1v1h-1zM961 509h1v1h-1zM972 509h1v1h-1zM1058 509h1v1h-1zM958 514h1v1h-1zM975 514h1v1h-1zM1035 514h1v1h-1zM1055 514h1v1h-1zM1165 514h1v1h-1zM958 515h1v1h-1zM976 515h1v1h-1zM1036 515h1v1h-1zM1054 515h1v1h-1zM1165 515h1v1h-1zM466 264h1v1h-1zM699 264h1v1h-1zM35 77h1v1h-1zM990 535h2v1h-2zM884 488h1v1h-1zM1019 488h1v1h-1zM1125 488h1v1h-1zM1151 488h1v1h-1zM550 201h1v1h-1zM599 201h3v1h-3zM90 134h1v1h-1zM101 143h1v1h-1zM437 143h1v1h-1zM441 143h1v1h-1zM551 200h1v1h-1zM31 84h1v1h-1zM528 234h1v1h-1zM579 234h1v1h-1zM585 234h1v1h-1zM668 234h1v1h-1zM162 218h1v1h-1zM164 218h2v1h-2zM205 218h1v1h-1zM234 218h1v1h-1zM262 218h1v1h-1zM542 218h1v1h-1zM662 218h1v1h-1zM1120 477h1v1h-1zM28 90h1v1h-1zM56 90h1v1h-1zM985 531h1v1h-1zM996 531h1v1h-1zM1174 531h1v1h-1zM1178 531h3v1h-3zM1224 531h1v1h-1zM1231 531h1v1h-1zM986 532h1v1h-1zM995 532h1v1h-1zM1175 532h3v1h-3zM1225 532h2v1h-2zM1229 532h2v1h-2zM289 189h1v1h-1zM353 189h1v1h-1zM563 189h1v1h-1zM10 118h1v1h-1zM67 118h1v1h-1zM137 161h1v1h-1zM317 161h1v1h-1zM335 161h1v1h-1zM793 338h1v1h-1zM794 339h1v1h-1zM1098 457h1v1h-1zM697 262h1v1h-1zM1105 465h1v1h-1zM808 358h1v1h-1zM826 358h1v1h-1zM837 358h2v1h-2zM873 460h1v1h-1zM1101 460h1v1h-1zM682 254h1v1h-1zM943 524h2v1h-2zM981 524h1v1h-1zM1000 524h1v1h-1zM1170 524h1v1h-1zM99 140h1v1h-1zM439 140h1v1h-1zM100 141h1v1h-1zM438 141h1v1h-1zM440 141h1v1h-1zM883 486h1v1h-1zM1124 486h1v1h-1zM1212 486h1v1h-1zM304 177h1v1h-1zM347 177h1v1h-1zM1119 475h1v1h-1zM748 311h1v1h-1zM20 107h1v1h-1zM285 197h1v1h-1zM493 197h1v1h-1zM553 197h1v1h-1zM567 197h1v1h-1zM95 138h2v1h-2zM9 119h1v1h-1zM68 119h2v1h-2zM75 119h1v1h-1zM1090 438h1v1h-1zM795 340h1v1h-1zM796 341h1v1h-1zM1096 453h1v1h-1zM810 361h1v1h-1zM824 361h1v1h-1zM844 361h1v1h-1zM39 74h2v1h-2zM50 74h1v1h-1zM287 193h1v1h-1zM483 193h1v1h-1zM491 193h1v1h-1zM556 193h2v1h-2zM565 193h1v1h-1zM90 133h1v1h-1zM19 109h1v1h-1zM552 199h1v1h-1zM102 145h1v1h-1zM436 145h1v1h-1zM442 145h1v1h-1zM705 283h1v1h-1zM289 188h1v1h-1zM352 188h1v1h-1zM145 180h1v1h-1zM298 180h3v1h-3zM348 180h1v1h-1zM11 117h1v1h-1zM67 117h1v1h-1zM97 139h2v1h-2zM1079 434h1v1h-1zM1088 434h1v1h-1zM1091 439h1v1h-1zM1081 431h1v1h-1zM1087 431h1v1h-1zM1098 456h1v1h-1zM677 248h1v1h-1zM811 363h3v1h-3zM92 136h2v1h-2zM790 334h1v1h-1zM1123 485h1v1h-1zM1211 485h1v1h-1zM881 481h1v1h-1zM1203 481h1v1h-1zM1209 481h1v1h-1zM678 250h1v1h-1zM141 169h1v1h-1zM311 169h1v1h-1zM341 169h1v1h-1zM1090 437h1v1h-1zM110 156h1v1h-1zM321 156h1v1h-1zM330 156h1v1h-1zM515 241h1v1h-1zM672 241h1v1h-1zM800 346h1v1h-1zM684 256h1v1h-1zM685 257h1v1h-1zM32 83h1v1h-1zM210 227h1v1h-1zM223 227h1v1h-1zM267 227h1v1h-1zM275 227h1v1h-1zM504 227h2v1h-2zM533 227h1v1h-1zM680 253h2v1h-2zM982 525h1v1h-1zM999 525h1v1h-1zM1170 525h1v1h-1zM705 282h1v1h-1zM18 110h1v1h-1zM31 85h1v1h-1zM798 343h1v1h-1zM27 92h1v1h-1zM57 92h1v1h-1zM1103 462h1v1h-1zM986 533h1v1h-1zM994 533h1v1h-1zM1227 533h2v1h-2zM790 333h1v1h-1zM30 87h1v1h-1zM1123 484h1v1h-1zM1211 484h1v1h-1zM26 94h1v1h-1zM58 94h1v1h-1zM22 101h1v1h-1zM104 148h1v1h-1zM307 174h1v1h-1zM345 174h1v1h-1zM748 312h1v1h-1zM17 111h1v1h-1zM64 111h1v1h-1zM1097 455h1v1h-1zM738 308h1v1h-1zM742 308h3v1h-3zM292 184h1v1h-1zM350 184h1v1h-1zM91 135h1v1h-1zM102 146h1v1h-1zM436 146h1v1h-1zM442 146h1v1h-1zM38 75h1v1h-1zM51 75h1v1h-1zM142 171h1v1h-1zM309 171h1v1h-1zM342 171h1v1h-1zM87 127h1v1h-1zM1091 440h1v1h-1zM30 86h1v1h-1zM26 93h1v1h-1zM57 93h1v1h-1zM802 351h1v1h-1zM799 345h1v1h-1zM683 255h1v1h-1zM82 123h2v1h-2zM25 96h1v1h-1zM678 251h1v1h-1zM34 78h1v1h-1zM308 173h1v1h-1zM344 173h1v1h-1zM797 342h1v1h-1zM1097 454h1v1h-1zM800 347h1v1h-1zM801 348h1v1h-1zM674 243h1v1h-1zM685 258h1v1h-1zM33 80h1v1h-1zM79 122h3v1h-3zM788 330h1v1h-1zM802 350h1v1h-1zM799 344h1v1h-1zM750 316h1v1h-1zM84 124h1v1h-1zM22 102h1v1h-1zM104 149h1v1h-1zM105 150h1v1h-1zM749 313h1v1h-1zM846 367h1v1h-1zM85 125h1v1h-1zM106 151h1v1h-1zM29 89h1v1h-1zM747 310h1v1h-1zM750 315h1v1h-1zM87 128h1v1h-1zM88 129h1v1h-1zM1099 458h1v1h-1zM1100 459h1v1h-1zM673 242h1v1h-1zM463 266h1v1h-1zM846 366h1v1h-1zM34 79h1v1h-1zM787 329h1v1h-1zM801 349h1v1h-1zM674 244h1v1h-1zM675 245h1v1h-1zM33 81h1v1h-1zM29 88h1v1h-1zM788 331h1v1h-1zM789 332h1v1h-1zM1104 464h1v1h-1z" fill="#ffa500"/>
<path d="M414 632h1v4h-1zM50 633h1v4h-1zM398 642h1v5h-1zM53 642h1v3h-1zM349 639h1v4h-1zM1189 632h1v3h-1zM946 644h1v3h-1zM712 654h1v4h-1zM253 634h1v4h-1zM1204 627h1v3h-1zM412 640h1v4h-1zM1225 641h1v4h-1zM397 647h1v5h-1zM1122 641h1v3h-1zM633 636h1v3h-1zM1224 645h1v4h-1zM1206 632h1v3h-1zM252 631h1v3h-1zM396 652h1v5h-1zM47 622h1v3h-1zM395 657h1v3h-1zM1226 637h1v4h-1zM714 646h1v4h-1zM254 638h1v3h-1zM348 636h1v3h-1zM989 645h1v3h-1zM689 644h1v3h-1zM824 645h1v3h-1zM945 647h1v4h-1zM944 651h1v3h-1zM49 629h1v4h-1zM713 650h1v4h-1zM413 636h1v4h-1zM329 626h1v3h-1zM711 658h1v3h-1zM888 657h1v3h-1zM48 625h1v4h-1zM826 640h1v3h-1zM51 637h1v3h-1zM399 639h1v3h-1zM1120 636h1v3h-1zM565 633h1v3h-1zM715 643h1v3h-1zM890 652h1v3h-1zM350 643h1v3h-1zM19 629h1v1h-1zM251 629h1v1h-1zM279 629h2v1h-2zM330 629h1v1h-1zM416 629h1v1h-1zM443 629h1v1h-1zM474 629h1v1h-1zM478 629h4v1h-4zM484 629h1v1h-1zM545 629h2v1h-2zM558 629h1v1h-1zM562 629h2v1h-2zM587 629h5v1h-5zM1015 629h1v1h-1zM1058 629h1v1h-1zM1087 629h1v1h-1zM1191 629h1v1h-1zM1194 629h4v1h-4zM1234 629h1v1h-1zM1236 629h1v1h-1zM5 642h1v1h-1zM65 642h1v1h-1zM74 642h1v1h-1zM119 642h3v1h-3zM183 642h3v1h-3zM189 642h2v1h-2zM219 642h1v1h-1zM225 642h1v1h-1zM255 642h1v1h-1zM267 642h1v1h-1zM409 642h1v1h-1zM450 642h1v1h-1zM457 642h1v1h-1zM511 642h1v1h-1zM569 642h1v1h-1zM576 642h2v1h-2zM635 642h1v1h-1zM663 642h1v1h-1zM690 642h1v1h-1zM696 642h1v1h-1zM716 642h2v1h-2zM721 642h1v1h-1zM731 642h7v1h-7zM742 642h2v1h-2zM759 642h3v1h-3zM768 642h1v1h-1zM774 642h1v1h-1zM833 642h1v1h-1zM947 642h1v1h-1zM953 642h1v1h-1zM963 642h3v1h-3zM991 642h1v1h-1zM1132 642h1v1h-1zM1154 642h1v1h-1zM1179 642h2v1h-2zM1184 642h1v1h-1zM1214 642h1v1h-1zM23 626h3v1h-3zM28 626h2v1h-2zM286 626h4v1h-4zM294 626h3v1h-3zM302 626h1v1h-1zM419 626h1v1h-1zM440 626h2v1h-2zM1061 626h1v1h-1zM1085 626h1v1h-1zM1202 626h2v1h-2zM55 648h1v1h-1zM90 648h1v1h-1zM93 648h1v1h-1zM100 648h1v1h-1zM107 648h1v1h-1zM113 648h1v1h-1zM137 648h1v1h-1zM167 648h1v1h-1zM173 648h1v1h-1zM198 648h1v1h-1zM210 648h1v1h-1zM262 648h2v1h-2zM352 648h2v1h-2zM685 648h1v1h-1zM688 648h1v1h-1zM700 648h1v1h-1zM750 648h1v1h-1zM752 648h1v1h-1zM794 648h1v1h-1zM813 648h1v1h-1zM822 648h2v1h-2zM845 648h1v1h-1zM906 648h1v1h-1zM910 648h2v1h-2zM923 648h2v1h-2zM978 648h1v1h-1zM980 648h2v1h-2zM985 648h1v1h-1zM988 648h1v1h-1zM1160 648h2v1h-2zM1164 648h1v1h-1zM1218 648h1v1h-1zM102 651h1v1h-1zM105 651h1v1h-1zM110 651h1v1h-1zM112 651h1v1h-1zM139 651h1v1h-1zM163 651h1v1h-1zM170 651h1v1h-1zM172 651h1v1h-1zM201 651h1v1h-1zM208 651h1v1h-1zM356 651h2v1h-2zM701 651h1v1h-1zM800 651h2v1h-2zM805 651h1v1h-1zM847 651h1v1h-1zM891 651h3v1h-3zM904 651h1v1h-1zM937 651h1v1h-1zM987 651h1v1h-1zM5 641h1v1h-1zM52 641h1v1h-1zM65 641h1v1h-1zM72 641h2v1h-2zM186 641h3v1h-3zM226 641h1v1h-1zM231 641h1v1h-1zM255 641h1v1h-1zM268 641h1v1h-1zM409 641h1v1h-1zM450 641h1v1h-1zM457 641h1v1h-1zM510 641h1v1h-1zM512 641h1v1h-1zM568 641h1v1h-1zM578 641h1v1h-1zM635 641h2v1h-2zM662 641h1v1h-1zM691 641h1v1h-1zM694 641h2v1h-2zM718 641h1v1h-1zM720 641h1v1h-1zM738 641h4v1h-4zM769 641h1v1h-1zM773 641h1v1h-1zM832 641h1v1h-1zM954 641h1v1h-1zM961 641h2v1h-2zM991 641h1v1h-1zM1023 641h2v1h-2zM1035 641h2v1h-2zM1133 641h1v1h-1zM1153 641h1v1h-1zM1185 641h1v1h-1zM1213 641h1v1h-1zM11 634h1v1h-1zM16 634h1v1h-1zM246 634h1v1h-1zM273 634h1v1h-1zM340 634h2v1h-2zM347 634h1v1h-1zM446 634h1v1h-1zM467 634h1v1h-1zM487 634h3v1h-3zM492 634h1v1h-1zM519 634h2v1h-2zM534 634h1v1h-1zM582 634h1v1h-1zM594 634h1v1h-1zM598 634h4v1h-4zM604 634h1v1h-1zM612 634h2v1h-2zM625 634h2v1h-2zM628 634h2v1h-2zM632 634h1v1h-1zM641 634h2v1h-2zM649 634h2v1h-2zM1001 634h1v1h-1zM1006 634h1v1h-1zM1008 634h1v1h-1zM1018 634h1v1h-1zM1056 634h1v1h-1zM1094 634h2v1h-2zM1105 634h1v1h-1zM1119 634h1v1h-1zM1229 634h2v1h-2zM1246 634h6v1h-6zM6 640h1v1h-1zM52 640h1v1h-1zM66 640h1v1h-1zM70 640h2v1h-2zM226 640h1v1h-1zM229 640h2v1h-2zM232 640h2v1h-2zM243 640h1v1h-1zM268 640h1v1h-1zM402 640h3v1h-3zM408 640h1v1h-1zM449 640h1v1h-1zM458 640h1v1h-1zM510 640h1v1h-1zM513 640h1v1h-1zM568 640h1v1h-1zM579 640h1v1h-1zM634 640h1v1h-1zM636 640h1v1h-1zM655 640h1v1h-1zM662 640h1v1h-1zM691 640h3v1h-3zM719 640h1v1h-1zM770 640h1v1h-1zM772 640h1v1h-1zM831 640h1v1h-1zM954 640h1v1h-1zM958 640h3v1h-3zM992 640h1v1h-1zM1022 640h1v1h-1zM1025 640h2v1h-2zM1034 640h1v1h-1zM1037 640h2v1h-2zM1042 640h2v1h-2zM1121 640h1v1h-1zM1133 640h1v1h-1zM1139 640h1v1h-1zM1153 640h1v1h-1zM1186 640h1v1h-1zM1213 640h1v1h-1zM54 646h1v1h-1zM57 646h1v1h-1zM79 646h3v1h-3zM88 646h1v1h-1zM95 646h3v1h-3zM114 646h1v1h-1zM127 646h3v1h-3zM132 646h2v1h-2zM136 646h1v1h-1zM174 646h1v1h-1zM177 646h2v1h-2zM180 646h1v1h-1zM195 646h1v1h-1zM211 646h1v1h-1zM214 646h2v1h-2zM258 646h1v1h-1zM264 646h1v1h-1zM351 646h1v1h-1zM571 646h1v1h-1zM684 646h1v1h-1zM698 646h1v1h-1zM747 646h1v1h-1zM753 646h1v1h-1zM792 646h1v1h-1zM814 646h1v1h-1zM818 646h2v1h-2zM838 646h4v1h-4zM844 646h1v1h-1zM914 646h1v1h-1zM921 646h1v1h-1zM977 646h1v1h-1zM983 646h1v1h-1zM1158 646h1v1h-1zM1166 646h1v1h-1zM1171 646h3v1h-3zM1176 646h1v1h-1zM1216 646h1v1h-1zM54 645h1v1h-1zM57 645h1v1h-1zM78 645h1v1h-1zM82 645h4v1h-4zM88 645h1v1h-1zM115 645h1v1h-1zM126 645h1v1h-1zM134 645h1v1h-1zM136 645h1v1h-1zM175 645h2v1h-2zM181 645h1v1h-1zM194 645h1v1h-1zM211 645h3v1h-3zM216 645h1v1h-1zM223 645h1v1h-1zM257 645h1v1h-1zM265 645h1v1h-1zM411 645h1v1h-1zM570 645h1v1h-1zM572 645h2v1h-2zM667 645h11v1h-11zM682 645h2v1h-2zM698 645h1v1h-1zM746 645h1v1h-1zM754 645h1v1h-1zM786 645h6v1h-6zM815 645h3v1h-3zM835 645h3v1h-3zM842 645h2v1h-2zM915 645h2v1h-2zM921 645h1v1h-1zM951 645h1v1h-1zM976 645h1v1h-1zM1123 645h9v1h-9zM1156 645h2v1h-2zM1166 645h1v1h-1zM1169 645h2v1h-2zM1177 645h1v1h-1zM1216 645h1v1h-1zM18 630h1v1h-1zM249 630h3v1h-3zM277 630h2v1h-2zM330 630h1v1h-1zM415 630h1v1h-1zM444 630h1v1h-1zM472 630h2v1h-2zM484 630h1v1h-1zM543 630h2v1h-2zM559 630h3v1h-3zM563 630h1v1h-1zM586 630h1v1h-1zM592 630h1v1h-1zM1013 630h2v1h-2zM1016 630h1v1h-1zM1058 630h1v1h-1zM1088 630h1v1h-1zM1102 630h2v1h-2zM1190 630h1v1h-1zM1205 630h1v1h-1zM1233 630h1v1h-1zM1237 630h1v1h-1zM18 631h1v1h-1zM247 631h2v1h-2zM275 631h2v1h-2zM331 631h1v1h-1zM415 631h1v1h-1zM444 631h1v1h-1zM471 631h1v1h-1zM485 631h1v1h-1zM541 631h2v1h-2zM564 631h1v1h-1zM584 631h2v1h-2zM592 631h1v1h-1zM1003 631h1v1h-1zM1011 631h2v1h-2zM1016 631h1v1h-1zM1057 631h1v1h-1zM1089 631h1v1h-1zM1099 631h3v1h-3zM1103 631h1v1h-1zM1190 631h1v1h-1zM1205 631h1v1h-1zM1233 631h1v1h-1zM1237 631h1v1h-1zM3 644h1v1h-1zM58 644h1v1h-1zM62 644h2v1h-2zM76 644h2v1h-2zM86 644h2v1h-2zM116 644h2v1h-2zM124 644h2v1h-2zM135 644h1v1h-1zM181 644h1v1h-1zM192 644h2v1h-2zM217 644h1v1h-1zM222 644h1v1h-1zM224 644h1v1h-1zM257 644h1v1h-1zM266 644h1v1h-1zM410 644h2v1h-2zM454 644h2v1h-2zM570 644h1v1h-1zM574 644h1v1h-1zM666 644h1v1h-1zM678 644h4v1h-4zM697 644h1v1h-1zM723 644h6v1h-6zM745 644h1v1h-1zM755 644h2v1h-2zM778 644h8v1h-8zM825 644h1v1h-1zM834 644h1v1h-1zM917 644h2v1h-2zM920 644h1v1h-1zM950 644h1v1h-1zM952 644h1v1h-1zM970 644h6v1h-6zM990 644h1v1h-1zM1123 644h1v1h-1zM1131 644h1v1h-1zM1155 644h1v1h-1zM1167 644h2v1h-2zM1177 644h1v1h-1zM1183 644h1v1h-1zM1215 644h1v1h-1zM91 650h1v1h-1zM101 650h1v1h-1zM105 650h1v1h-1zM109 650h1v1h-1zM112 650h1v1h-1zM138 650h1v1h-1zM164 650h2v1h-2zM169 650h1v1h-1zM172 650h1v1h-1zM200 650h1v1h-1zM209 650h1v1h-1zM355 650h1v1h-1zM687 650h1v1h-1zM701 650h1v1h-1zM798 650h2v1h-2zM806 650h1v1h-1zM810 650h2v1h-2zM846 650h1v1h-1zM891 650h1v1h-1zM905 650h1v1h-1zM927 650h7v1h-7zM936 650h1v1h-1zM986 650h2v1h-2zM1163 650h1v1h-1zM1219 650h5v1h-5zM7 639h1v1h-1zM67 639h3v1h-3zM227 639h2v1h-2zM234 639h1v1h-1zM241 639h3v1h-3zM269 639h1v1h-1zM400 639h2v1h-2zM405 639h2v1h-2zM408 639h1v1h-1zM448 639h1v1h-1zM459 639h2v1h-2zM509 639h1v1h-1zM514 639h1v1h-1zM567 639h1v1h-1zM579 639h1v1h-1zM634 639h1v1h-1zM637 639h1v1h-1zM654 639h1v1h-1zM656 639h1v1h-1zM661 639h1v1h-1zM771 639h1v1h-1zM827 639h1v1h-1zM829 639h2v1h-2zM955 639h3v1h-3zM993 639h1v1h-1zM1022 639h1v1h-1zM1027 639h3v1h-3zM1032 639h2v1h-2zM1039 639h3v1h-3zM1044 639h2v1h-2zM1110 639h2v1h-2zM1121 639h1v1h-1zM1134 639h1v1h-1zM1138 639h1v1h-1zM1140 639h2v1h-2zM1152 639h1v1h-1zM1186 639h1v1h-1zM1212 639h1v1h-1zM1259 639h1v1h-1zM9 637h1v1h-1zM15 637h1v1h-1zM244 637h1v1h-1zM270 637h1v1h-1zM447 637h1v1h-1zM463 637h1v1h-1zM495 637h3v1h-3zM505 637h2v1h-2zM508 637h1v1h-1zM516 637h1v1h-1zM566 637h1v1h-1zM580 637h1v1h-1zM606 637h1v1h-1zM608 637h2v1h-2zM638 637h1v1h-1zM653 637h1v1h-1zM658 637h1v1h-1zM660 637h1v1h-1zM994 637h1v1h-1zM998 637h2v1h-2zM1020 637h1v1h-1zM1047 637h7v1h-7zM1106 637h1v1h-1zM1114 637h1v1h-1zM1135 637h1v1h-1zM1143 637h2v1h-2zM1151 637h1v1h-1zM1187 637h1v1h-1zM1210 637h2v1h-2zM1255 637h2v1h-2zM1261 637h1v1h-1zM1267 637h1v1h-1zM31 624h3v1h-3zM37 624h2v1h-2zM41 624h2v1h-2zM304 624h1v1h-1zM328 624h1v1h-1zM420 624h1v1h-1zM435 624h3v1h-3zM1063 624h1v1h-1zM1084 624h1v1h-1zM17 633h1v1h-1zM246 633h1v1h-1zM273 633h1v1h-1zM334 633h6v1h-6zM445 633h1v1h-1zM468 633h2v1h-2zM486 633h1v1h-1zM490 633h2v1h-2zM535 633h3v1h-3zM582 633h1v1h-1zM594 633h1v1h-1zM602 633h2v1h-2zM614 633h1v1h-1zM622 633h3v1h-3zM630 633h2v1h-2zM643 633h6v1h-6zM1002 633h1v1h-1zM1005 633h1v1h-1zM1009 633h1v1h-1zM1018 633h1v1h-1zM1056 633h1v1h-1zM1091 633h3v1h-3zM1096 633h2v1h-2zM1104 633h1v1h-1zM1231 633h1v1h-1zM1239 633h7v1h-7zM143 654h1v1h-1zM160 654h1v1h-1zM206 654h2v1h-2zM360 654h1v1h-1zM703 654h2v1h-2zM849 654h1v1h-1zM896 654h1v1h-1zM902 654h1v1h-1zM941 654h3v1h-3zM4 643h1v1h-1zM59 643h3v1h-3zM64 643h1v1h-1zM75 643h1v1h-1zM118 643h1v1h-1zM122 643h2v1h-2zM182 643h1v1h-1zM191 643h1v1h-1zM218 643h1v1h-1zM220 643h2v1h-2zM224 643h1v1h-1zM256 643h1v1h-1zM266 643h1v1h-1zM410 643h1v1h-1zM451 643h3v1h-3zM456 643h1v1h-1zM569 643h1v1h-1zM575 643h1v1h-1zM664 643h2v1h-2zM690 643h1v1h-1zM696 643h1v1h-1zM722 643h1v1h-1zM729 643h2v1h-2zM744 643h1v1h-1zM757 643h2v1h-2zM762 643h6v1h-6zM775 643h3v1h-3zM825 643h1v1h-1zM833 643h1v1h-1zM919 643h1v1h-1zM947 643h3v1h-3zM952 643h1v1h-1zM966 643h4v1h-4zM990 643h1v1h-1zM1132 643h1v1h-1zM1154 643h1v1h-1zM1178 643h1v1h-1zM1181 643h2v1h-2zM1184 643h1v1h-1zM1214 643h1v1h-1zM19 628h2v1h-2zM281 628h2v1h-2zM299 628h1v1h-1zM417 628h1v1h-1zM443 628h1v1h-1zM475 628h3v1h-3zM482 628h2v1h-2zM547 628h7v1h-7zM556 628h2v1h-2zM1059 628h1v1h-1zM1086 628h1v1h-1zM1191 628h3v1h-3zM1198 628h2v1h-2zM1235 628h1v1h-1zM21 627h2v1h-2zM26 627h2v1h-2zM283 627h3v1h-3zM290 627h4v1h-4zM297 627h2v1h-2zM300 627h2v1h-2zM418 627h1v1h-1zM442 627h1v1h-1zM554 627h2v1h-2zM1060 627h1v1h-1zM1086 627h1v1h-1zM1200 627h2v1h-2zM10 635h1v1h-1zM12 635h2v1h-2zM16 635h1v1h-1zM245 635h1v1h-1zM272 635h1v1h-1zM342 635h1v1h-1zM345 635h3v1h-3zM446 635h1v1h-1zM466 635h1v1h-1zM493 635h1v1h-1zM518 635h1v1h-1zM521 635h2v1h-2zM526 635h4v1h-4zM532 635h2v1h-2zM581 635h1v1h-1zM595 635h3v1h-3zM605 635h1v1h-1zM611 635h1v1h-1zM627 635h1v1h-1zM632 635h1v1h-1zM639 635h2v1h-2zM651 635h1v1h-1zM1000 635h1v1h-1zM1007 635h1v1h-1zM1019 635h1v1h-1zM1055 635h1v1h-1zM1105 635h1v1h-1zM1117 635h3v1h-3zM1147 635h3v1h-3zM1188 635h1v1h-1zM1207 635h1v1h-1zM1227 635h2v1h-2zM1252 635h2v1h-2zM1263 635h2v1h-2zM8 638h1v1h-1zM235 638h6v1h-6zM244 638h1v1h-1zM270 638h1v1h-1zM407 638h1v1h-1zM448 638h1v1h-1zM461 638h2v1h-2zM498 638h7v1h-7zM508 638h1v1h-1zM515 638h1v1h-1zM567 638h1v1h-1zM580 638h1v1h-1zM607 638h1v1h-1zM637 638h1v1h-1zM653 638h1v1h-1zM657 638h1v1h-1zM660 638h1v1h-1zM827 638h2v1h-2zM993 638h1v1h-1zM1021 638h1v1h-1zM1030 638h2v1h-2zM1046 638h1v1h-1zM1107 638h3v1h-3zM1112 638h2v1h-2zM1134 638h1v1h-1zM1136 638h2v1h-2zM1142 638h1v1h-1zM1152 638h1v1h-1zM1187 638h1v1h-1zM1212 638h1v1h-1zM1257 638h2v1h-2zM1260 638h1v1h-1zM55 647h2v1h-2zM89 647h1v1h-1zM94 647h1v1h-1zM98 647h2v1h-2zM114 647h1v1h-1zM130 647h2v1h-2zM137 647h1v1h-1zM174 647h1v1h-1zM179 647h1v1h-1zM196 647h2v1h-2zM210 647h1v1h-1zM259 647h3v1h-3zM264 647h1v1h-1zM351 647h1v1h-1zM685 647h1v1h-1zM688 647h1v1h-1zM699 647h1v1h-1zM748 647h2v1h-2zM753 647h1v1h-1zM793 647h1v1h-1zM813 647h1v1h-1zM820 647h2v1h-2zM844 647h1v1h-1zM907 647h3v1h-3zM912 647h2v1h-2zM922 647h1v1h-1zM977 647h1v1h-1zM982 647h1v1h-1zM984 647h1v1h-1zM1159 647h1v1h-1zM1165 647h1v1h-1zM1174 647h2v1h-2zM1217 647h1v1h-1zM17 632h1v1h-1zM247 632h1v1h-1zM274 632h1v1h-1zM331 632h3v1h-3zM445 632h1v1h-1zM470 632h1v1h-1zM486 632h1v1h-1zM538 632h3v1h-3zM564 632h1v1h-1zM583 632h1v1h-1zM593 632h1v1h-1zM615 632h7v1h-7zM631 632h1v1h-1zM1002 632h1v1h-1zM1004 632h1v1h-1zM1010 632h1v1h-1zM1017 632h1v1h-1zM1057 632h1v1h-1zM1090 632h1v1h-1zM1098 632h1v1h-1zM1104 632h1v1h-1zM1232 632h1v1h-1zM1238 632h1v1h-1zM90 649h1v1h-1zM92 649h1v1h-1zM100 649h1v1h-1zM106 649h1v1h-1zM108 649h1v1h-1zM113 649h1v1h-1zM138 649h1v1h-1zM166 649h1v1h-1zM168 649h1v1h-1zM173 649h1v1h-1zM199 649h1v1h-1zM209 649h1v1h-1zM354 649h1v1h-1zM686 649h2v1h-2zM700 649h1v1h-1zM751 649h1v1h-1zM795 649h3v1h-3zM807 649h3v1h-3zM812 649h1v1h-1zM823 649h1v1h-1zM846 649h1v1h-1zM906 649h1v1h-1zM925 649h2v1h-2zM934 649h2v1h-2zM979 649h1v1h-1zM985 649h1v1h-1zM988 649h1v1h-1zM1162 649h1v1h-1zM1164 649h1v1h-1zM1218 649h1v1h-1zM1223 649h1v1h-1zM375 666h1v1h-1zM391 666h1v1h-1zM875 666h3v1h-3zM884 666h1v1h-1zM102 652h1v1h-1zM104 652h1v1h-1zM111 652h1v1h-1zM140 652h2v1h-2zM162 652h1v1h-1zM171 652h1v1h-1zM202 652h1v1h-1zM208 652h1v1h-1zM358 652h1v1h-1zM702 652h1v1h-1zM802 652h1v1h-1zM804 652h1v1h-1zM848 652h1v1h-1zM894 652h1v1h-1zM904 652h1v1h-1zM938 652h1v1h-1zM1073 616h2v1h-2zM1078 616h2v1h-2zM372 663h1v1h-1zM393 663h1v1h-1zM869 663h2v1h-2zM886 663h1v1h-1zM9 636h1v1h-1zM14 636h2v1h-2zM245 636h1v1h-1zM271 636h1v1h-1zM343 636h2v1h-2zM447 636h1v1h-1zM464 636h2v1h-2zM494 636h1v1h-1zM507 636h1v1h-1zM517 636h1v1h-1zM523 636h3v1h-3zM530 636h2v1h-2zM566 636h1v1h-1zM581 636h1v1h-1zM605 636h1v1h-1zM610 636h1v1h-1zM638 636h1v1h-1zM652 636h1v1h-1zM659 636h1v1h-1zM995 636h3v1h-3zM1000 636h1v1h-1zM1020 636h1v1h-1zM1054 636h2v1h-2zM1106 636h1v1h-1zM1115 636h2v1h-2zM1145 636h2v1h-2zM1150 636h2v1h-2zM1188 636h1v1h-1zM1207 636h3v1h-3zM1227 636h1v1h-1zM1254 636h1v1h-1zM1262 636h1v1h-1zM1265 636h2v1h-2zM1071 617h2v1h-2zM1080 617h1v1h-1zM307 621h3v1h-3zM318 621h2v1h-2zM326 621h1v1h-1zM422 621h1v1h-1zM433 621h1v1h-1zM1066 621h1v1h-1zM1082 621h1v1h-1zM154 659h2v1h-2zM363 659h1v1h-1zM710 659h1v1h-1zM855 659h2v1h-2zM898 659h1v1h-1zM900 659h1v1h-1zM310 620h8v1h-8zM320 620h2v1h-2zM325 620h1v1h-1zM423 620h3v1h-3zM432 620h1v1h-1zM1067 620h1v1h-1zM1081 620h1v1h-1zM376 667h1v1h-1zM391 667h1v1h-1zM878 667h6v1h-6zM364 660h2v1h-2zM394 660h1v1h-1zM857 660h2v1h-2zM887 660h1v1h-1zM899 660h1v1h-1zM34 623h3v1h-3zM43 623h3v1h-3zM305 623h1v1h-1zM327 623h1v1h-1zM421 623h1v1h-1zM434 623h1v1h-1zM1064 623h1v1h-1zM1083 623h1v1h-1zM147 657h3v1h-3zM157 657h1v1h-1zM362 657h1v1h-1zM708 657h1v1h-1zM852 657h2v1h-2zM897 657h1v1h-1zM901 657h1v1h-1zM367 662h5v1h-5zM393 662h1v1h-1zM866 662h3v1h-3zM886 662h1v1h-1zM374 665h1v1h-1zM392 665h1v1h-1zM873 665h2v1h-2zM884 665h1v1h-1zM322 619h1v1h-1zM324 619h1v1h-1zM426 619h4v1h-4zM432 619h1v1h-1zM1068 619h2v1h-2zM1081 619h1v1h-1zM379 671h3v1h-3zM389 671h1v1h-1zM146 656h1v1h-1zM158 656h1v1h-1zM361 656h1v1h-1zM707 656h1v1h-1zM851 656h1v1h-1zM889 656h1v1h-1zM897 656h1v1h-1zM901 656h1v1h-1zM144 655h2v1h-2zM159 655h1v1h-1zM360 655h1v1h-1zM705 655h2v1h-2zM850 655h1v1h-1zM889 655h1v1h-1zM896 655h1v1h-1zM902 655h1v1h-1zM943 655h1v1h-1zM373 664h1v1h-1zM392 664h1v1h-1zM871 664h2v1h-2zM885 664h1v1h-1zM103 653h1v1h-1zM142 653h1v1h-1zM161 653h1v1h-1zM203 653h3v1h-3zM207 653h1v1h-1zM359 653h1v1h-1zM702 653h1v1h-1zM803 653h1v1h-1zM849 653h1v1h-1zM895 653h1v1h-1zM903 653h1v1h-1zM939 653h2v1h-2zM366 661h1v1h-1zM394 661h1v1h-1zM859 661h7v1h-7zM887 661h1v1h-1zM385 673h2v1h-2zM388 673h1v1h-1zM30 625h1v1h-1zM39 625h2v1h-2zM303 625h1v1h-1zM328 625h1v1h-1zM420 625h1v1h-1zM438 625h2v1h-2zM1062 625h1v1h-1zM1084 625h1v1h-1zM1203 625h1v1h-1zM1075 615h3v1h-3zM150 658h4v1h-4zM156 658h1v1h-1zM362 658h1v1h-1zM709 658h1v1h-1zM854 658h1v1h-1zM898 658h1v1h-1zM900 658h1v1h-1zM382 672h3v1h-3zM388 672h1v1h-1zM323 618h1v1h-1zM430 618h2v1h-2zM1070 618h1v1h-1zM1080 618h1v1h-1zM46 622h1v1h-1zM306 622h1v1h-1zM327 622h1v1h-1zM422 622h1v1h-1zM434 622h1v1h-1zM1065 622h1v1h-1zM1082 622h1v1h-1zM378 670h1v1h-1zM389 670h1v1h-1zM387 674h1v1h-1zM377 669h1v1h-1zM390 669h1v1h-1zM377 668h1v1h-1zM390 668h1v1h-1z" fill="#1e90ff"/>
<path d="M161 746h1v1h-1zM201 746h3v1h-3zM431 746h1v1h-1zM719 746h2v1h-2zM774 746h1v1h-1zM778 746h3v1h-3zM863 746h2v1h-2zM990 746h1v1h-1zM994 746h3v1h-3zM428 752h1v1h-1zM736 752h3v1h-3zM742 752h3v1h-3zM971 752h2v1h-2zM153 743h1v1h-1zM225 743h3v1h-3zM231 743h3v1h-3zM384 743h1v1h-1zM713 743h2v1h-2zM796 743h3v1h-3zM802 743h3v1h-3zM844 743h2v1h-2zM850 743h3v1h-3zM856 743h2v1h-2zM1006 743h1v1h-1zM454 707h1v1h-1zM466 707h1v1h-1zM1096 707h1v1h-1zM1114 707h1v1h-1zM171 749h3v1h-3zM190 749h2v1h-2zM388 749h1v1h-1zM726 749h1v1h-1zM760 749h2v1h-2zM868 749h2v1h-2zM9 723h1v1h-1zM27 723h3v1h-3zM81 723h2v1h-2zM369 723h1v1h-1zM442 723h1v1h-1zM666 723h1v1h-1zM1072 723h2v1h-2zM1145 723h2v1h-2zM1266 723h1v1h-1zM123 739h3v1h-3zM129 739h1v1h-1zM245 739h1v1h-1zM707 739h1v1h-1zM1014 739h1v1h-1zM400 767h1v1h-1zM893 767h2v1h-2zM923 767h2v1h-2zM321 713h1v1h-1zM357 713h2v1h-2zM478 713h1v1h-1zM498 713h1v1h-1zM502 713h3v1h-3zM508 713h2v1h-2zM1086 713h1v1h-1zM1126 713h1v1h-1zM93 728h1v1h-1zM291 728h2v1h-2zM439 728h1v1h-1zM682 728h3v1h-3zM1038 728h1v1h-1zM1042 728h3v1h-3zM1048 728h3v1h-3zM1054 728h3v1h-3zM1060 728h2v1h-2zM1162 728h3v1h-3zM1216 728h2v1h-2zM1240 728h3v1h-3zM1246 728h3v1h-3zM317 714h1v1h-1zM359 714h1v1h-1zM479 714h2v1h-2zM490 714h3v1h-3zM496 714h2v1h-2zM510 714h1v1h-1zM1084 714h2v1h-2zM1127 714h2v1h-2zM105 733h2v1h-2zM262 733h2v1h-2zM267 733h3v1h-3zM694 733h1v1h-1zM1025 733h2v1h-2zM1180 733h2v1h-2zM1204 733h1v1h-1zM130 740h2v1h-2zM135 740h3v1h-3zM243 740h2v1h-2zM434 740h1v1h-1zM708 740h1v1h-1zM1012 740h2v1h-2zM166 748h2v1h-2zM195 748h2v1h-2zM387 748h1v1h-1zM430 748h1v1h-1zM724 748h2v1h-2zM762 748h1v1h-1zM766 748h3v1h-3zM982 748h3v1h-3zM41 719h1v1h-1zM365 719h1v1h-1zM556 719h2v1h-2zM592 719h2v1h-2zM618 719h1v1h-1zM622 719h3v1h-3zM628 719h3v1h-3zM634 719h3v1h-3zM1078 719h1v1h-1zM1138 719h1v1h-1zM3 722h3v1h-3zM33 722h1v1h-1zM303 722h1v1h-1zM442 722h1v1h-1zM532 722h3v1h-3zM538 722h3v1h-3zM544 722h3v1h-3zM664 722h2v1h-2zM1074 722h1v1h-1zM1144 722h1v1h-1zM395 761h1v1h-1zM942 761h1v1h-1zM111 735h2v1h-2zM255 735h3v1h-3zM379 735h1v1h-1zM436 735h1v1h-1zM700 735h1v1h-1zM1186 735h3v1h-3zM1194 735h1v1h-1zM404 770h1v1h-1zM418 770h1v1h-1zM904 770h2v1h-2zM916 770h2v1h-2zM51 715h3v1h-3zM57 715h3v1h-3zM315 715h2v1h-2zM484 715h3v1h-3zM514 715h1v1h-1zM570 715h1v1h-1zM34 721h2v1h-2zM77 721h1v1h-1zM304 721h2v1h-2zM550 721h1v1h-1zM598 721h3v1h-3zM604 721h3v1h-3zM658 721h3v1h-3zM147 742h3v1h-3zM237 742h1v1h-1zM384 742h1v1h-1zM433 742h1v1h-1zM712 742h1v1h-1zM846 742h1v1h-1zM1007 742h2v1h-2zM327 710h3v1h-3zM351 710h2v1h-2zM450 710h1v1h-1zM472 710h1v1h-1zM1090 710h1v1h-1zM1121 710h2v1h-2zM159 745h2v1h-2zM207 745h3v1h-3zM213 745h1v1h-1zM718 745h1v1h-1zM784 745h3v1h-3zM820 745h3v1h-3zM826 745h3v1h-3zM832 745h2v1h-2zM862 745h1v1h-1zM1000 745h2v1h-2zM87 726h2v1h-2zM677 726h2v1h-2zM1066 726h3v1h-3zM1156 726h2v1h-2zM1254 726h1v1h-1zM455 706h2v1h-2zM462 706h1v1h-1zM1097 706h2v1h-2zM1110 706h1v1h-1zM165 747h1v1h-1zM197 747h1v1h-1zM386 747h1v1h-1zM431 747h1v1h-1zM772 747h2v1h-2zM988 747h2v1h-2zM390 754h1v1h-1zM427 754h1v1h-1zM875 754h1v1h-1zM966 754h1v1h-1zM118 738h2v1h-2zM706 738h1v1h-1zM394 760h1v1h-1zM424 760h1v1h-1zM882 760h1v1h-1zM946 760h3v1h-3zM45 717h2v1h-2zM69 717h1v1h-1zM311 717h1v1h-1zM363 717h1v1h-1zM445 717h1v1h-1zM520 717h1v1h-1zM562 717h3v1h-3zM580 717h3v1h-3zM1080 717h1v1h-1zM1133 717h2v1h-2zM89 727h1v1h-1zM293 727h1v1h-1zM1062 727h1v1h-1zM1158 727h1v1h-1zM1218 727h1v1h-1zM1222 727h3v1h-3zM1228 727h3v1h-3zM1234 727h3v1h-3zM1252 727h2v1h-2zM39 720h2v1h-2zM75 720h2v1h-2zM526 720h3v1h-3zM551 720h2v1h-2zM594 720h1v1h-1zM610 720h3v1h-3zM616 720h2v1h-2zM640 720h3v1h-3zM646 720h3v1h-3zM652 720h3v1h-3zM1139 720h2v1h-2zM47 716h1v1h-1zM63 716h3v1h-3zM446 716h1v1h-1zM515 716h2v1h-2zM568 716h2v1h-2zM574 716h3v1h-3zM1132 716h1v1h-1zM10 724h2v1h-2zM15 724h3v1h-3zM21 724h3v1h-3zM83 724h1v1h-1zM299 724h1v1h-1zM370 724h1v1h-1zM441 724h1v1h-1zM670 724h3v1h-3zM1264 724h2v1h-2zM333 709h3v1h-3zM345 709h3v1h-3zM1091 709h2v1h-2zM1120 709h1v1h-1zM154 744h2v1h-2zM214 744h2v1h-2zM219 744h3v1h-3zM790 744h3v1h-3zM808 744h3v1h-3zM814 744h3v1h-3zM834 744h1v1h-1zM838 744h3v1h-3zM858 744h1v1h-1zM1002 744h1v1h-1zM113 736h1v1h-1zM251 736h1v1h-1zM380 736h1v1h-1zM435 736h1v1h-1zM701 736h2v1h-2zM1019 736h2v1h-2zM1192 736h2v1h-2zM460 705h2v1h-2zM1102 705h3v1h-3zM1108 705h2v1h-2zM394 759h1v1h-1zM425 759h1v1h-1zM881 759h1v1h-1zM952 759h2v1h-2zM94 729h2v1h-2zM286 729h2v1h-2zM374 729h1v1h-1zM439 729h1v1h-1zM1036 729h2v1h-2zM1168 729h2v1h-2zM1211 729h2v1h-2zM178 751h2v1h-2zM183 751h3v1h-3zM731 751h2v1h-2zM748 751h2v1h-2zM976 751h1v1h-1zM177 750h1v1h-1zM189 750h1v1h-1zM730 750h1v1h-1zM750 750h1v1h-1zM754 750h3v1h-3zM870 750h1v1h-1zM977 750h2v1h-2zM410 773h3v1h-3zM70 718h2v1h-2zM309 718h2v1h-2zM364 718h1v1h-1zM445 718h1v1h-1zM521 718h2v1h-2zM558 718h1v1h-1zM586 718h3v1h-3zM1079 718h1v1h-1zM285 730h1v1h-1zM375 730h1v1h-1zM438 730h1v1h-1zM688 730h1v1h-1zM1031 730h2v1h-2zM1170 730h1v1h-1zM1210 730h1v1h-1zM425 758h1v1h-1zM880 758h1v1h-1zM954 758h1v1h-1zM273 732h3v1h-3zM1175 732h2v1h-2zM1205 732h2v1h-2zM405 771h2v1h-2zM416 771h2v1h-2zM906 771h1v1h-1zM910 771h3v1h-3zM117 737h1v1h-1zM249 737h2v1h-2zM380 737h1v1h-1zM1018 737h1v1h-1zM339 708h3v1h-3zM467 708h2v1h-2zM1115 708h2v1h-2zM391 755h1v1h-1zM876 755h1v1h-1zM964 755h2v1h-2zM922 768h1v1h-1zM297 725h2v1h-2zM371 725h1v1h-1zM676 725h1v1h-1zM1150 725h3v1h-3zM1258 725h3v1h-3zM99 731h3v1h-3zM279 731h3v1h-3zM376 731h1v1h-1zM689 731h2v1h-2zM1030 731h1v1h-1zM1174 731h1v1h-1zM107 734h1v1h-1zM261 734h1v1h-1zM436 734h1v1h-1zM695 734h2v1h-2zM1024 734h1v1h-1zM1182 734h1v1h-1zM1198 734h3v1h-3zM390 753h1v1h-1zM428 753h1v1h-1zM874 753h1v1h-1zM970 753h1v1h-1zM141 741h3v1h-3zM238 741h2v1h-2zM383 741h1v1h-1zM433 741h1v1h-1zM422 764h1v1h-1zM887 764h2v1h-2zM934 764h1v1h-1zM898 769h3v1h-3zM918 769h1v1h-1zM940 762h2v1h-2zM322 712h2v1h-2zM449 712h1v1h-1zM958 757h3v1h-3zM886 763h1v1h-1zM935 763h2v1h-2zM399 766h1v1h-1zM421 766h1v1h-1zM892 766h1v1h-1zM928 766h2v1h-2zM398 765h1v1h-1zM422 765h1v1h-1zM930 765h1v1h-1zM353 711h1v1h-1zM449 711h1v1h-1zM473 711h2v1h-2z" fill="#ff0000"/>
<rect x="2" y="26" width="1594" height="1" fill="#000"/>
<rect x="2" y="582" width="1594" height="1" fill="#000"/>
<rect x="2" y="26" width="1" height="557" fill="#000"/>
<rect x="1595" y="26" width="1" height="557" fill="#000"/>
<rect x="2" y="585" width="1594" height="1" fill="#000"/>
<rect x="2" y="686" width="1594" height="1" fill="#000"/>
<rect x="2" y="585" width="1" height="102" fill="#000"/>
<rect x="1595" y="585" width="1" height="102" fill="#000"/>
<rect x="2" y="688" width="1594" height="1" fill="#000"/>
<rect x="2" y="789" width="1594" height="1" fill="#000"/>
<rect x="2" y="688" width="1" height="102" fill="#000"/>
<rect x="1595" y="688" width="1" height="102" fill="#000"/>
<rect x="3" y="274" width="1594" height="2" fill="#ff0000"/>
<rect x="2" y="272" width="6" height="6" fill="#ff0000"/><rect x="4" y="274" width="2" height="2" fill="#fff"/>
<rect x="1589" y="272" width="6" height="6" fill="#ff0000"/><rect x="1591" y="274" width="2" height="2" fill="#fff"/>
<rect x="3" y="340" width="1594" height="2" fill="#ff0000"/>
<rect x="2" y="338" width="6" height="6" fill="#ff0000"/><rect x="4" y="340" width="2" height="2" fill="#fff"/>
<rect x="1589" y="338" width="6" height="6" fill="#ff0000"/><rect x="1591" y="340" width="2" height="2" fill="#fff"/>
<rect x="3" y="409" width="1594" height="2" fill="#ff0000"/>
<rect x="2" y="407" width="6" height="6" fill="#ff0000"/><rect x="4" y="409" width="2" height="2" fill="#fff"/>
<rect x="1589" y="407" width="6" height="6" fill="#ff0000"/><rect x="1591" y="409" width="2" height="2" fill="#fff"/>
<rect x="3" y="474" width="1594" height="2" fill="#00ff00"/>
<rect x="2" y="472" width="6" height="6" fill="#00ff00"/><rect x="4" y="474" width="2" height="2" fill="#fff"/>
<rect x="1589" y="472" width="6" height="6" fill="#00ff00"/><rect x="1591" y="474" width="2" height="2" fill="#fff"/>
<rect x="3" y="557" width="1594" height="2" fill="#0000ff"/>
<rect x="2" y="555" width="6" height="6" fill="#0000ff"/><rect x="4" y="557" width="2" height="2" fill="#fff"/>
<rect x="1589" y="555" width="6" height="6" fill="#0000ff"/><rect x="1591" y="557" width="2" height="2" fill="#fff"/>
<rect x="1596" y="51" width="3" height="1" fill="#000"/>
<rect x="1596" y="84" width="3" height="1" fill="#000"/>
<rect x="1596" y="116" width="3" height="1" fill="#000"/>
<rect x="1596" y="150" width="3" height="1" fill="#000"/>
<rect x="1596" y="183" width="3" height="1" fill="#000"/>
<rect x="1596" y="216" width="3" height="1" fill="#000"/>
<rect x="1596" y="249" width="3" height="1" fill="#000"/>
<rect x="1596" y="282" width="3" height="1" fill="#000"/>
<rect x="1596" y="315" width="3" height="1" fill="#000"/>
<rect x="1596" y="348" width="3" height="1" fill="#000"/>
<rect x="1596" y="381" width="3" height="1" fill="#000"/>
<rect x="1596" y="414" width="3" height="1" fill="#000"/>
<rect x="1596" y="447" width="3" height="1" fill="#000"/>
<rect x="1596" y="480" width="3" height="1" fill="#000"/>
<rect x="1596" y="513" width="3" height="1" fill="#000"/>
<rect x="1596" y="546" width="3" height="1" fill="#000"/>
<rect x="1596" y="579" width="3" height="1" fill="#000"/>
<rect x="1596" y="615" width="2" height="1" fill="#000"/>
<rect x="1596" y="655" width="2" height="1" fill="#000"/>
<rect x="1596" y="723" width="2" height="1" fill="#000"/>
</g>
<text x="1601.4" y="54.8" font-family="Liberation Sans, sans-serif" font-size="10" fill="#000" textLength="32.4" lengthAdjust="spacingAndGlyphs" stroke="#000" stroke-width="0.15">1.00270</text>
<text x="1601.4" y="87.8" font-family="Liberation Sans, sans-serif" font-size="10" fill="#000" textLength="32.4" lengthAdjust="spacingAndGlyphs" stroke="#000" stroke-width="0.15">0.99610</text>
<text x="1601.4" y="119.8" font-family="Liberation Sans, sans-serif" font-size="10" fill="#000" textLength="32.4" lengthAdjust="spacingAndGlyphs" stroke="#000" stroke-width="0.15">0.98950</text>
<text x="1601.4" y="153.8" font-family="Liberation Sans, sans-serif" font-size="10" fill="#000" textLength="32.4" lengthAdjust="spacingAndGlyphs" stroke="#000" stroke-width="0.15">0.98270</text>
<text x="1601.4" y="186.8" font-family="Liberation Sans, sans-serif" font-size="10" fill="#000" textLength="32.4" lengthAdjust="spacingAndGlyphs" stroke="#000" stroke-width="0.15">0.97610</text>
<text x="1601.4" y="219.8" font-family="Liberation Sans, sans-serif" font-size="10" fill="#000" textLength="32.4" lengthAdjust="spacingAndGlyphs" stroke="#000" stroke-width="0.15">0.96930</text>
<text x="1601.4" y="252.8" font-family="Liberation Sans, sans-serif" font-size="10" fill="#000" textLength="32.4" lengthAdjust="spacingAndGlyphs" stroke="#000" stroke-width="0.15">0.96270</text>
<text x="1601.4" y="285.8" font-family="Liberation Sans, sans-serif" font-size="10" fill="#000" textLength="32.4" lengthAdjust="spacingAndGlyphs" stroke="#000" stroke-width="0.15">0.95610</text>
<text x="1601.4" y="318.8" font-family="Liberation Sans, sans-serif" font-size="10" fill="#000" textLength="32.4" lengthAdjust="spacingAndGlyphs" stroke="#000" stroke-width="0.15">0.94930</text>
<text x="1601.4" y="351.8" font-family="Liberation Sans, sans-serif" font-size="10" fill="#000" textLength="32.4" lengthAdjust="spacingAndGlyphs" stroke="#000" stroke-width="0.15">0.94270</text>
<text x="1601.4" y="384.8" font-family="Liberation Sans, sans-serif" font-size="10" fill="#000" textLength="32.4" lengthAdjust="spacingAndGlyphs" stroke="#000" stroke-width="0.15">0.93610</text>
<text x="1601.4" y="417.8" font-family="Liberation Sans, sans-serif" font-size="10" fill="#000" textLength="32.4" lengthAdjust="spacingAndGlyphs" stroke="#000" stroke-width="0.15">0.92930</text>
<text x="1601.4" y="450.8" font-family="Liberation Sans, sans-serif" font-size="10" fill="#000" textLength="32.4" lengthAdjust="spacingAndGlyphs" stroke="#000" stroke-width="0.15">0.92270</text>
<text x="1601.4" y="483.8" font-family="Liberation Sans, sans-serif" font-size="10" fill="#000" textLength="32.4" lengthAdjust="spacingAndGlyphs" stroke="#000" stroke-width="0.15">0.91610</text>
<text x="1601.4" y="516.8" font-family="Liberation Sans, sans-serif" font-size="10" fill="#000" textLength="32.4" lengthAdjust="spacingAndGlyphs" stroke="#000" stroke-width="0.15">0.90930</text>
<text x="1601.4" y="549.8" font-family="Liberation Sans, sans-serif" font-size="10" fill="#000" textLength="32.4" lengthAdjust="spacingAndGlyphs" stroke="#000" stroke-width="0.15">0.90270</text>
<text x="1601.4" y="582.8" font-family="Liberation Sans, sans-serif" font-size="10" fill="#000" textLength="32.4" lengthAdjust="spacingAndGlyphs" stroke="#000" stroke-width="0.15">0.89610</text>
<g shape-rendering="crispEdges">
<rect x="1597" y="269" width="41" height="11" fill="#ff0000"/>
<rect x="1597" y="335" width="41" height="11" fill="#ff0000"/>
<rect x="1597" y="404" width="41" height="11" fill="#ff0000"/>
<rect x="1597" y="469" width="41" height="11" fill="#00ff00"/>
<rect x="1597" y="552" width="41" height="11" fill="#0000ff"/>
<rect x="1597" y="503" width="41" height="11" fill="#000"/>
</g>
<text x="1601.4" y="277.6" font-family="Liberation Sans, sans-serif" font-size="10" fill="#fff" textLength="32.4" lengthAdjust="spacingAndGlyphs" stroke="#fff" stroke-width="0.15">0.95756</text>
<text x="1601.4" y="343.6" font-family="Liberation Sans, sans-serif" font-size="10" fill="#fff" textLength="32.4" lengthAdjust="spacingAndGlyphs" stroke="#fff" stroke-width="0.15">0.94406</text>
<text x="1601.4" y="412.6" font-family="Liberation Sans, sans-serif" font-size="10" fill="#fff" textLength="32.4" lengthAdjust="spacingAndGlyphs" stroke="#fff" stroke-width="0.15">0.93016</text>
<text x="1601.4" y="477.6" font-family="Liberation Sans, sans-serif" font-size="10" fill="#fff" textLength="32.4" lengthAdjust="spacingAndGlyphs" stroke="#fff" stroke-width="0.15">0.91706</text>
<text x="1601.4" y="560.6" font-family="Liberation Sans, sans-serif" font-size="10" fill="#fff" textLength="32.4" lengthAdjust="spacingAndGlyphs" stroke="#fff" stroke-width="0.15">0.90018</text>
<text x="1601.4" y="511.6" font-family="Liberation Sans, sans-serif" font-size="10" fill="#fff" textLength="32.4" lengthAdjust="spacingAndGlyphs" stroke="#fff" stroke-width="0.15">0.91039</text>
<text x="1599.0" y="595.2" font-family="Liberation Sans, sans-serif" font-size="10" fill="#000" textLength="14.5" lengthAdjust="spacingAndGlyphs" stroke="#000" stroke-width="0.15">100</text>
<text x="1599.0" y="619.1" font-family="Liberation Sans, sans-serif" font-size="10" fill="#000" textLength="9.7" lengthAdjust="spacingAndGlyphs" stroke="#000" stroke-width="0.15">70</text>
<text x="1599.0" y="659.0" font-family="Liberation Sans, sans-serif" font-size="10" fill="#000" textLength="9.7" lengthAdjust="spacingAndGlyphs" stroke="#000" stroke-width="0.15">30</text>
<text x="1599.0" y="682.9" font-family="Liberation Sans, sans-serif" font-size="10" fill="#000" textLength="4.8" lengthAdjust="spacingAndGlyphs" stroke="#000" stroke-width="0.15">0</text>
<text x="1599.0" y="698.6" font-family="Liberation Sans, sans-serif" font-size="10" fill="#000" textLength="37.4" lengthAdjust="spacingAndGlyphs" stroke="#000" stroke-width="0.15">0.005818</text>
<text x="1599.0" y="726.9" font-family="Liberation Sans, sans-serif" font-size="10" fill="#000" textLength="17.5" lengthAdjust="spacingAndGlyphs" stroke="#000" stroke-width="0.15">0.00</text>
<text x="1599.0" y="786.4" font-family="Liberation Sans, sans-serif" font-size="10" fill="#000" textLength="40.5" lengthAdjust="spacingAndGlyphs" stroke="#000" stroke-width="0.15">-0.011514</text>
<g shape-rendering="crispEdges"><rect x="6" y="33" width="7" height="1"/><rect x="7" y="34" width="5" height="1"/><rect x="8" y="35" width="3" height="1"/><rect x="9" y="36" width="1" height="1"/></g>
<text x="18.1" y="38.0" font-family="Liberation Sans, sans-serif" font-size="10" fill="#000" textLength="64.4" lengthAdjust="spacingAndGlyphs" stroke="#000" stroke-width="0.15">USDCHF,Daily</text>
<text x="89.3" y="38.0" font-family="Liberation Sans, sans-serif" font-size="10" fill="#000" textLength="140.3" lengthAdjust="spacingAndGlyphs" stroke="#000" stroke-width="0.15">0.91198 0.91235 0.90988 0.91039</text>
<text x="7.2" y="597.0" font-family="Liberation Sans, sans-serif" font-size="10" fill="#000" textLength="67.7" lengthAdjust="spacingAndGlyphs" stroke="#000" stroke-width="0.15">RSI(14) 48.4638</text>
<text x="7.2" y="701.0" font-family="Liberation Sans, sans-serif" font-size="10" fill="#000" textLength="153.6" lengthAdjust="spacingAndGlyphs" stroke="#000" stroke-width="0.15">MACD(12,26,9) -0.000136 -0.000060</text>
<g shape-rendering="crispEdges"><rect x="1271" y="27" width="9" height="1" fill="#c0c0c0"/><rect x="1272" y="28" width="7" height="1" fill="#c0c0c0"/><rect x="1273" y="29" width="5" height="1" fill="#c0c0c0"/><rect x="1274" y="30" width="3" height="1" fill="#c0c0c0"/><rect x="1275" y="31" width="1" height="1" fill="#c0c0c0"/></g>
<g shape-rendering="crispEdges">
<rect x="3" y="790" width="1" height="3" fill="#000"/>
<rect x="67" y="790" width="1" height="3" fill="#000"/>
<rect x="131" y="790" width="1" height="3" fill="#000"/>
<rect x="195" y="790" width="1" height="3" fill="#000"/>
<rect x="259" y="790" width="1" height="3" fill="#000"/>
<rect x="323" y="790" width="1" height="3" fill="#000"/>
<rect x="387" y="790" width="1" height="3" fill="#000"/>
<rect x="451" y="790" width="1" height="3" fill="#000"/>
<rect x="515" y="790" width="1" height="3" fill="#000"/>
<rect x="579" y="790" width="1" height="3" fill="#000"/>
<rect x="643" y="790" width="1" height="3" fill="#000"/>
<rect x="707" y="790" width="1" height="3" fill="#000"/>
<rect x="771" y="790" width="1" height="3" fill="#000"/>
<rect x="835" y="790" width="1" height="3" fill="#000"/>
<rect x="899" y="790" width="1" height="3" fill="#000"/>
<rect x="963" y="790" width="1" height="3" fill="#000"/>
<rect x="1027" y="790" width="1" height="3" fill="#000"/>
<rect x="1091" y="790" width="1" height="3" fill="#000"/>
<rect x="1155" y="790" width="1" height="3" fill="#000"/>
<rect x="1219" y="790" width="1" height="3" fill="#000"/>
</g>
<text x="2.2" y="802.0" font-family="Liberation Sans, sans-serif" font-size="10" fill="#000" textLength="53.9" lengthAdjust="spacingAndGlyphs" stroke="#000" stroke-width="0.15">18 Nov 2019</text>
<text x="66.2" y="802.0" font-family="Liberation Sans, sans-serif" font-size="10" fill="#000" textLength="46.6" lengthAdjust="spacingAndGlyphs" stroke="#000" stroke-width="0.15">6 Dec 2019</text>
<text x="130.2" y="802.0" font-family="Liberation Sans, sans-serif" font-size="10" fill="#000" textLength="51.7" lengthAdjust="spacingAndGlyphs" stroke="#000" stroke-width="0.15">25 Dec 2019</text>
<text x="194.2" y="802.0" font-family="Liberation Sans, sans-serif" font-size="10" fill="#000" textLength="49.2" lengthAdjust="spacingAndGlyphs" stroke="#000" stroke-width="0.15">13 Jan 2020</text>
<text x="258.2" y="802.0" font-family="Liberation Sans, sans-serif" font-size="10" fill="#000" textLength="49.2" lengthAdjust="spacingAndGlyphs" stroke="#000" stroke-width="0.15">31 Jan 2020</text>
<text x="322.2" y="802.0" font-family="Liberation Sans, sans-serif" font-size="10" fill="#000" textLength="51.2" lengthAdjust="spacingAndGlyphs" stroke="#000" stroke-width="0.15">19 Feb 2020</text>
<text x="386.2" y="802.0" font-family="Liberation Sans, sans-serif" font-size="10" fill="#000" textLength="46.5" lengthAdjust="spacingAndGlyphs" stroke="#000" stroke-width="0.15">9 Mar 2020</text>
<text x="450.2" y="802.0" font-family="Liberation Sans, sans-serif" font-size="10" fill="#000" textLength="51.9" lengthAdjust="spacingAndGlyphs" stroke="#000" stroke-width="0.15">27 Mar 2020</text>
<text x="514.2" y="802.0" font-family="Liberation Sans, sans-serif" font-size="10" fill="#000" textLength="50.7" lengthAdjust="spacingAndGlyphs" stroke="#000" stroke-width="0.15">15 Apr 2020</text>
<text x="578.2" y="802.0" font-family="Liberation Sans, sans-serif" font-size="10" fill="#000" textLength="49.2" lengthAdjust="spacingAndGlyphs" stroke="#000" stroke-width="0.15">4 May 2020</text>
<text x="642.2" y="802.0" font-family="Liberation Sans, sans-serif" font-size="10" fill="#000" textLength="53.7" lengthAdjust="spacingAndGlyphs" stroke="#000" stroke-width="0.15">22 May 2020</text>
<text x="706.2" y="802.0" font-family="Liberation Sans, sans-serif" font-size="10" fill="#000" textLength="49.2" lengthAdjust="spacingAndGlyphs" stroke="#000" stroke-width="0.15">10 Jun 2020</text>
<text x="770.2" y="802.0" font-family="Liberation Sans, sans-serif" font-size="10" fill="#000" textLength="49.2" lengthAdjust="spacingAndGlyphs" stroke="#000" stroke-width="0.15">29 Jun 2020</text>
<text x="834.2" y="802.0" font-family="Liberation Sans, sans-serif" font-size="10" fill="#000" textLength="45.4" lengthAdjust="spacingAndGlyphs" stroke="#000" stroke-width="0.15">17 Jul 2020</text>
<text x="898.2" y="802.0" font-family="Liberation Sans, sans-serif" font-size="10" fill="#000" textLength="46.9" lengthAdjust="spacingAndGlyphs" stroke="#000" stroke-width="0.15">5 Aug 2020</text>
<text x="962.2" y="802.0" font-family="Liberation Sans, sans-serif" font-size="10" fill="#000" textLength="51.5" lengthAdjust="spacingAndGlyphs" stroke="#000" stroke-width="0.15">24 Aug 2020</text>
<text x="1026.2" y="802.0" font-family="Liberation Sans, sans-serif" font-size="10" fill="#000" textLength="51.5" lengthAdjust="spacingAndGlyphs" stroke="#000" stroke-width="0.15">11 Sep 2020</text>
<text x="1090.2" y="802.0" font-family="Liberation Sans, sans-serif" font-size="10" fill="#000" textLength="51.4" lengthAdjust="spacingAndGlyphs" stroke="#000" stroke-width="0.15">30 Sep 2020</text>
<text x="1154.2" y="802.0" font-family="Liberation Sans, sans-serif" font-size="10" fill="#000" textLength="50.0" lengthAdjust="spacingAndGlyphs" stroke="#000" stroke-width="0.15">19 Oct 2020</text>
<text x="1218.2" y="802.0" font-family="Liberation Sans, sans-serif" font-size="10" fill="#000" textLength="48.4" lengthAdjust="spacingAndGlyphs" stroke="#000" stroke-width="0.15">6 Nov 2020</text>
<g shape-rendering="crispEdges">
<rect x="0" y="811" width="1638" height="1" fill="#e3e3e3"/>
<rect x="0" y="812" width="1638" height="19" fill="#f0f0f0"/>
<rect x="0" y="831" width="1638" height="4" fill="#f7f7f7"/>
<rect x="0" y="812" width="1638" height="1" fill="#000"/>
<rect x="108" y="812" width="100" height="19" fill="#fff"/>
<rect x="108" y="812" width="1" height="19" fill="#000"/><rect x="207" y="812" width="1" height="19" fill="#000"/><rect x="108" y="830" width="100" height="1" fill="#000"/>
</g>
<text x="16.7" y="826.6" font-family="Liberation Sans, sans-serif" font-size="11.5" fill="#7a7a7a" textLength="79.5" lengthAdjust="spacingAndGlyphs" stroke="#7a7a7a" stroke-width="0.15">EURUSD,Daily</text>
<text x="118.5" y="826.6" font-family="Liberation Sans, sans-serif" font-size="11.5" fill="#000" textLength="78.4" lengthAdjust="spacingAndGlyphs" stroke="#000" stroke-width="0.15">USDCHF,Daily</text>
<text x="219.2" y="826.6" font-family="Liberation Sans, sans-serif" font-size="11.5" fill="#7a7a7a" textLength="81.3" lengthAdjust="spacingAndGlyphs" stroke="#7a7a7a" stroke-width="0.15">AUDUSD,Daily</text>
<text x="323.6" y="826.6" font-family="Liberation Sans, sans-serif" font-size="11.5" fill="#7a7a7a" textLength="80.2" lengthAdjust="spacingAndGlyphs" stroke="#7a7a7a" stroke-width="0.15">USDCAD,Daily</text>
<text x="425.7" y="826.6" font-family="Liberation Sans, sans-serif" font-size="11.5" fill="#7a7a7a" textLength="83.3" lengthAdjust="spacingAndGlyphs" stroke="#7a7a7a" stroke-width="0.15">USDCNH,Daily</text>
<text x="531.7" y="826.6" font-family="Liberation Sans, sans-serif" font-size="11.5" fill="#7a7a7a" textLength="80.3" lengthAdjust="spacingAndGlyphs" stroke="#7a7a7a" stroke-width="0.15">EURUSD,Daily</text>
<text x="635.4" y="826.6" font-family="Liberation Sans, sans-serif" font-size="11.5" fill="#7a7a7a" textLength="68.2" lengthAdjust="spacingAndGlyphs" stroke="#7a7a7a" stroke-width="0.15">GBPUSD,H4</text>
<text x="726.6" y="826.6" font-family="Liberation Sans, sans-serif" font-size="11.5" fill="#7a7a7a" textLength="81.4" lengthAdjust="spacingAndGlyphs" stroke="#7a7a7a" stroke-width="0.15">XAUUSD,Daily</text>
<text x="831.5" y="826.6" font-family="Liberation Sans, sans-serif" font-size="11.5" fill="#7a7a7a" textLength="48.5" lengthAdjust="spacingAndGlyphs" stroke="#7a7a7a" stroke-width="0.15">HK50,H1</text>
<text x="903.4" y="826.6" font-family="Liberation Sans, sans-serif" font-size="11.5" fill="#7a7a7a" textLength="56.0" lengthAdjust="spacingAndGlyphs" stroke="#7a7a7a" stroke-width="0.15">UK100,H1</text>
<text x="983.6" y="826.6" font-family="Liberation Sans, sans-serif" font-size="11.5" fill="#7a7a7a" textLength="56.4" lengthAdjust="spacingAndGlyphs" stroke="#7a7a7a" stroke-width="0.15">UK100,H1</text>
<text x="1062.7" y="826.6" font-family="Liberation Sans, sans-serif" font-size="11.5" fill="#7a7a7a" textLength="56.7" lengthAdjust="spacingAndGlyphs" stroke="#7a7a7a" stroke-width="0.15">GER30,H1</text>
<text x="1142.0" y="826.6" font-family="Liberation Sans, sans-serif" font-size="11.5" fill="#7a7a7a" textLength="53.9" lengthAdjust="spacingAndGlyphs" stroke="#7a7a7a" stroke-width="0.15">FRA40,H1</text>
<text x="1217.8" y="826.6" font-family="Liberation Sans, sans-serif" font-size="11.5" fill="#7a7a7a" textLength="50.8" lengthAdjust="spacingAndGlyphs" stroke="#7a7a7a" stroke-width="0.15">USOil,H4</text>
<text x="1290.5" y="826.6" font-family="Liberation Sans, sans-serif" font-size="11.5" fill="#7a7a7a" textLength="62.1" lengthAdjust="spacingAndGlyphs" stroke="#7a7a7a" stroke-width="0.15">USDJPY,H1</text>
<text x="1374.5" y="826.6" font-family="Liberation Sans, sans-serif" font-size="11.5" fill="#7a7a7a" textLength="58.7" lengthAdjust="spacingAndGlyphs" stroke="#7a7a7a" stroke-width="0.15">DJ30,Daily</text>
<text x="1454.0" y="826.6" font-family="Liberation Sans, sans-serif" font-size="11.5" fill="#7a7a7a" textLength="78.8" lengthAdjust="spacingAndGlyphs" stroke="#7a7a7a" stroke-width="0.15">CHINA300,H1</text>
<text x="1554.7" y="826.6" font-family="Liberation Sans, sans-serif" font-size="11.5" fill="#7a7a7a" textLength="49.3" lengthAdjust="spacingAndGlyphs" stroke="#7a7a7a" stroke-width="0.15">USOil,H1</text>
<g shape-rendering="crispEdges">
<rect x="312" y="816" width="1" height="12" fill="#808080"/>
<rect x="416" y="816" width="1" height="12" fill="#808080"/>
<rect x="520" y="816" width="1" height="12" fill="#808080"/>
<rect x="624" y="816" width="1" height="12" fill="#808080"/>
<rect x="716" y="816" width="1" height="12" fill="#808080"/>
<rect x="820" y="816" width="1" height="12" fill="#808080"/>
<rect x="892" y="816" width="1" height="12" fill="#808080"/>
<rect x="972" y="816" width="1" height="12" fill="#808080"/>
<rect x="1052" y="816" width="1" height="12" fill="#808080"/>
<rect x="1131" y="816" width="1" height="12" fill="#808080"/>
<rect x="1208" y="816" width="1" height="12" fill="#808080"/>
<rect x="1280" y="816" width="1" height="12" fill="#808080"/>
<rect x="1364" y="816" width="1" height="12" fill="#808080"/>
<rect x="1444" y="816" width="1" height="12" fill="#808080"/>
<rect x="1544" y="816" width="1" height="12" fill="#808080"/>
</g>
<path d="M1615 819.5v7l-4-3.5z" fill="#a0a0a0"/><path d="M1629 819.5v7l4-3.5z" fill="#000"/>
</svg>
</body></html>
